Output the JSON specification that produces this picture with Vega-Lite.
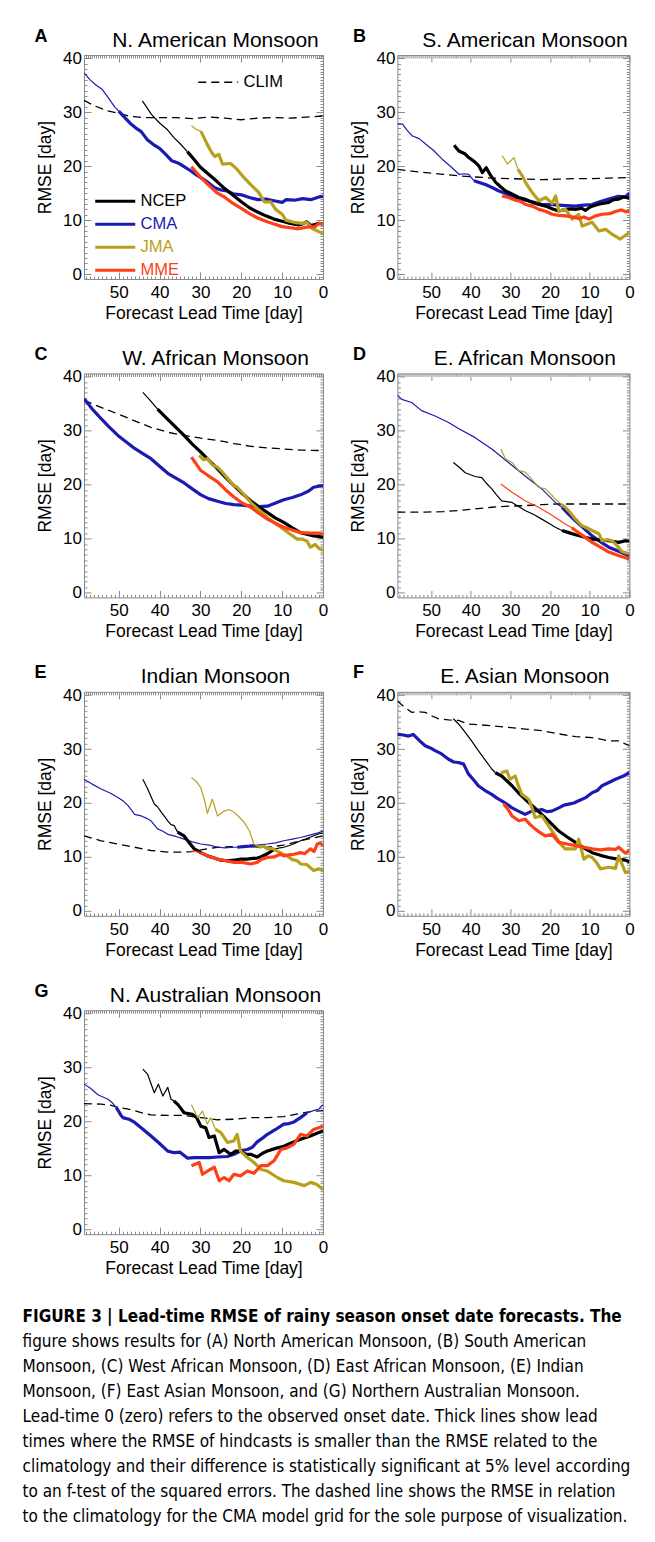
{
  "$schema": "https://vega.github.io/schema/vega-lite/v6.json",
  "background": "white",
  "padding": {"left": 22, "top": 26, "right": 0, "bottom": 10},
  "data": {"values": [
    {"p":"A","s":"CLIM","w":"thin","g":0,"x":58.5,"y":32.2},{"p":"A","s":"CLIM","w":"thin","g":0,"x":56,"y":31.2},{"p":"A","s":"CLIM","w":"thin","g":0,"x":53,"y":30.3},{"p":"A","s":"CLIM","w":"thin","g":0,"x":50,"y":29.8},{"p":"A","s":"CLIM","w":"thin","g":0,"x":47,"y":29.2},{"p":"A","s":"CLIM","w":"thin","g":0,"x":44,"y":29.0},{"p":"A","s":"CLIM","w":"thin","g":0,"x":40,"y":29.0},{"p":"A","s":"CLIM","w":"thin","g":0,"x":36,"y":29.0},{"p":"A","s":"CLIM","w":"thin","g":0,"x":32,"y":28.8},{"p":"A","s":"CLIM","w":"thin","g":0,"x":28,"y":29.1},{"p":"A","s":"CLIM","w":"thin","g":0,"x":24,"y":28.9},{"p":"A","s":"CLIM","w":"thin","g":0,"x":20,"y":28.6},{"p":"A","s":"CLIM","w":"thin","g":0,"x":16,"y":28.9},{"p":"A","s":"CLIM","w":"thin","g":0,"x":12,"y":29.0},{"p":"A","s":"CLIM","w":"thin","g":0,"x":8,"y":28.9},{"p":"A","s":"CLIM","w":"thin","g":0,"x":4,"y":29.1},{"p":"A","s":"CLIM","w":"thin","g":0,"x":0,"y":29.3},
    {"p":"A","s":"CMA","w":"thin","g":1,"x":58.5,"y":37.3},{"p":"A","s":"CMA","w":"thin","g":1,"x":57,"y":36.0},{"p":"A","s":"CMA","w":"thin","g":1,"x":55.5,"y":35.0},{"p":"A","s":"CMA","w":"thin","g":1,"x":54,"y":34.2},{"p":"A","s":"CMA","w":"thin","g":1,"x":52.5,"y":32.6},{"p":"A","s":"CMA","w":"thin","g":1,"x":51,"y":31.0},{"p":"A","s":"CMA","w":"thin","g":1,"x":50,"y":30.2},
    {"p":"A","s":"CMA","w":"thick","g":2,"x":50,"y":30.2},{"p":"A","s":"CMA","w":"thick","g":2,"x":48.5,"y":29.0},{"p":"A","s":"CMA","w":"thick","g":2,"x":47,"y":27.8},{"p":"A","s":"CMA","w":"thick","g":2,"x":45.5,"y":26.9},{"p":"A","s":"CMA","w":"thick","g":2,"x":44.5,"y":26.4},{"p":"A","s":"CMA","w":"thick","g":2,"x":43,"y":24.9},{"p":"A","s":"CMA","w":"thick","g":2,"x":41.5,"y":24.0},{"p":"A","s":"CMA","w":"thick","g":2,"x":40,"y":23.3},{"p":"A","s":"CMA","w":"thick","g":2,"x":38.5,"y":22.2},{"p":"A","s":"CMA","w":"thick","g":2,"x":37,"y":21.0},{"p":"A","s":"CMA","w":"thick","g":2,"x":35.5,"y":20.6},{"p":"A","s":"CMA","w":"thick","g":2,"x":34,"y":19.9},{"p":"A","s":"CMA","w":"thick","g":2,"x":32.5,"y":19.2},{"p":"A","s":"CMA","w":"thick","g":2,"x":31,"y":18.4},{"p":"A","s":"CMA","w":"thick","g":2,"x":29.5,"y":17.7},{"p":"A","s":"CMA","w":"thick","g":2,"x":28,"y":16.9},{"p":"A","s":"CMA","w":"thick","g":2,"x":26.5,"y":16.0},{"p":"A","s":"CMA","w":"thick","g":2,"x":25,"y":15.6},{"p":"A","s":"CMA","w":"thick","g":2,"x":23.5,"y":15.4},{"p":"A","s":"CMA","w":"thick","g":2,"x":22,"y":14.9},{"p":"A","s":"CMA","w":"thick","g":2,"x":20,"y":14.7},{"p":"A","s":"CMA","w":"thick","g":2,"x":18,"y":14.2},{"p":"A","s":"CMA","w":"thick","g":2,"x":16,"y":13.8},{"p":"A","s":"CMA","w":"thick","g":2,"x":14,"y":13.9},{"p":"A","s":"CMA","w":"thick","g":2,"x":12,"y":13.6},{"p":"A","s":"CMA","w":"thick","g":2,"x":10,"y":13.3},{"p":"A","s":"CMA","w":"thick","g":2,"x":9,"y":13.8},{"p":"A","s":"CMA","w":"thick","g":2,"x":7,"y":13.7},{"p":"A","s":"CMA","w":"thick","g":2,"x":5,"y":14.0},{"p":"A","s":"CMA","w":"thick","g":2,"x":3,"y":13.8},{"p":"A","s":"CMA","w":"thick","g":2,"x":1,"y":14.3},{"p":"A","s":"CMA","w":"thick","g":2,"x":0,"y":14.4},
    {"p":"A","s":"NCEP","w":"thin","g":1,"x":44.2,"y":32.1},{"p":"A","s":"NCEP","w":"thin","g":1,"x":42,"y":29.6},{"p":"A","s":"NCEP","w":"thin","g":1,"x":40,"y":28.0},{"p":"A","s":"NCEP","w":"thin","g":1,"x":38,"y":26.7},{"p":"A","s":"NCEP","w":"thin","g":1,"x":36.5,"y":25.3},{"p":"A","s":"NCEP","w":"thin","g":1,"x":35,"y":24.2},{"p":"A","s":"NCEP","w":"thin","g":1,"x":33.2,"y":22.7},
    {"p":"A","s":"NCEP","w":"thick","g":2,"x":33.2,"y":22.7},{"p":"A","s":"NCEP","w":"thick","g":2,"x":31.5,"y":21.2},{"p":"A","s":"NCEP","w":"thick","g":2,"x":30,"y":19.8},{"p":"A","s":"NCEP","w":"thick","g":2,"x":28,"y":18.5},{"p":"A","s":"NCEP","w":"thick","g":2,"x":26,"y":17.2},{"p":"A","s":"NCEP","w":"thick","g":2,"x":24,"y":15.8},{"p":"A","s":"NCEP","w":"thick","g":2,"x":22,"y":14.6},{"p":"A","s":"NCEP","w":"thick","g":2,"x":20,"y":13.4},{"p":"A","s":"NCEP","w":"thick","g":2,"x":18,"y":12.3},{"p":"A","s":"NCEP","w":"thick","g":2,"x":16,"y":11.5},{"p":"A","s":"NCEP","w":"thick","g":2,"x":14,"y":10.8},{"p":"A","s":"NCEP","w":"thick","g":2,"x":12,"y":10.2},{"p":"A","s":"NCEP","w":"thick","g":2,"x":10,"y":9.8},{"p":"A","s":"NCEP","w":"thick","g":2,"x":8,"y":9.4},{"p":"A","s":"NCEP","w":"thick","g":2,"x":6,"y":9.1},{"p":"A","s":"NCEP","w":"thick","g":2,"x":5,"y":9.3},{"p":"A","s":"NCEP","w":"thick","g":2,"x":4,"y":9.7},{"p":"A","s":"NCEP","w":"thick","g":2,"x":3,"y":9.0},{"p":"A","s":"NCEP","w":"thick","g":2,"x":2,"y":9.2},{"p":"A","s":"NCEP","w":"thick","g":2,"x":1,"y":9.4},{"p":"A","s":"NCEP","w":"thick","g":2,"x":0,"y":9.3},
    {"p":"A","s":"JMA","w":"thin","g":1,"x":32.2,"y":27.5},{"p":"A","s":"JMA","w":"thin","g":1,"x":31,"y":26.8},{"p":"A","s":"JMA","w":"thin","g":1,"x":29.9,"y":26.5},
    {"p":"A","s":"JMA","w":"thick","g":2,"x":29.9,"y":26.5},{"p":"A","s":"JMA","w":"thick","g":2,"x":28.3,"y":24.0},{"p":"A","s":"JMA","w":"thick","g":2,"x":27.2,"y":22.5},{"p":"A","s":"JMA","w":"thick","g":2,"x":26.5,"y":21.8},{"p":"A","s":"JMA","w":"thick","g":2,"x":25.5,"y":22.2},{"p":"A","s":"JMA","w":"thick","g":2,"x":24.6,"y":20.4},{"p":"A","s":"JMA","w":"thick","g":2,"x":22.6,"y":20.5},{"p":"A","s":"JMA","w":"thick","g":2,"x":21,"y":19.4},{"p":"A","s":"JMA","w":"thick","g":2,"x":19.5,"y":18.0},{"p":"A","s":"JMA","w":"thick","g":2,"x":17.7,"y":16.6},{"p":"A","s":"JMA","w":"thick","g":2,"x":15.7,"y":15.1},{"p":"A","s":"JMA","w":"thick","g":2,"x":14.4,"y":13.4},{"p":"A","s":"JMA","w":"thick","g":2,"x":12.8,"y":13.4},{"p":"A","s":"JMA","w":"thick","g":2,"x":11.6,"y":12.0},{"p":"A","s":"JMA","w":"thick","g":2,"x":10,"y":11.1},{"p":"A","s":"JMA","w":"thick","g":2,"x":9.1,"y":10.0},{"p":"A","s":"JMA","w":"thick","g":2,"x":7.1,"y":9.6},{"p":"A","s":"JMA","w":"thick","g":2,"x":5,"y":9.4},{"p":"A","s":"JMA","w":"thick","g":2,"x":4,"y":9.6},{"p":"A","s":"JMA","w":"thick","g":2,"x":2.5,"y":8.4},{"p":"A","s":"JMA","w":"thick","g":2,"x":0,"y":7.5},
    {"p":"A","s":"MME","w":"thick","g":1,"x":32.2,"y":19.9},{"p":"A","s":"MME","w":"thick","g":1,"x":30.5,"y":18.4},{"p":"A","s":"MME","w":"thick","g":1,"x":29.9,"y":17.9},{"p":"A","s":"MME","w":"thick","g":1,"x":28,"y":16.5},{"p":"A","s":"MME","w":"thick","g":1,"x":26,"y":15.1},{"p":"A","s":"MME","w":"thick","g":1,"x":24,"y":14.2},{"p":"A","s":"MME","w":"thick","g":1,"x":22,"y":13.1},{"p":"A","s":"MME","w":"thick","g":1,"x":20,"y":12.2},{"p":"A","s":"MME","w":"thick","g":1,"x":18,"y":11.2},{"p":"A","s":"MME","w":"thick","g":1,"x":16,"y":10.4},{"p":"A","s":"MME","w":"thick","g":1,"x":14,"y":9.8},{"p":"A","s":"MME","w":"thick","g":1,"x":12,"y":9.3},{"p":"A","s":"MME","w":"thick","g":1,"x":10,"y":8.8},{"p":"A","s":"MME","w":"thick","g":1,"x":8,"y":8.6},{"p":"A","s":"MME","w":"thick","g":1,"x":6,"y":8.4},{"p":"A","s":"MME","w":"thick","g":1,"x":4,"y":8.7},{"p":"A","s":"MME","w":"thick","g":1,"x":2,"y":8.8},{"p":"A","s":"MME","w":"thick","g":1,"x":1,"y":9.4},{"p":"A","s":"MME","w":"thick","g":1,"x":0,"y":9.3},

    {"p":"B","s":"CLIM","w":"thin","g":0,"x":58.5,"y":19.4},{"p":"B","s":"CLIM","w":"thin","g":0,"x":55,"y":19.1},{"p":"B","s":"CLIM","w":"thin","g":0,"x":51.4,"y":18.8},{"p":"B","s":"CLIM","w":"thin","g":0,"x":47,"y":18.5},{"p":"B","s":"CLIM","w":"thin","g":0,"x":43,"y":18.2},{"p":"B","s":"CLIM","w":"thin","g":0,"x":38.8,"y":18.0},{"p":"B","s":"CLIM","w":"thin","g":0,"x":34.6,"y":17.8},{"p":"B","s":"CLIM","w":"thin","g":0,"x":30,"y":17.7},{"p":"B","s":"CLIM","w":"thin","g":0,"x":26.2,"y":17.6},{"p":"B","s":"CLIM","w":"thin","g":0,"x":22,"y":17.5},{"p":"B","s":"CLIM","w":"thin","g":0,"x":17.8,"y":17.6},{"p":"B","s":"CLIM","w":"thin","g":0,"x":13.6,"y":17.7},{"p":"B","s":"CLIM","w":"thin","g":0,"x":9.4,"y":17.7},{"p":"B","s":"CLIM","w":"thin","g":0,"x":5,"y":17.8},{"p":"B","s":"CLIM","w":"thin","g":0,"x":0,"y":17.9},
    {"p":"B","s":"CMA","w":"thin","g":1,"x":58.5,"y":27.8},{"p":"B","s":"CMA","w":"thin","g":1,"x":57.2,"y":27.8},{"p":"B","s":"CMA","w":"thin","g":1,"x":56,"y":26.6},{"p":"B","s":"CMA","w":"thin","g":1,"x":54.7,"y":25.6},{"p":"B","s":"CMA","w":"thin","g":1,"x":53,"y":25.1},{"p":"B","s":"CMA","w":"thin","g":1,"x":51.4,"y":24.1},{"p":"B","s":"CMA","w":"thin","g":1,"x":49.5,"y":23.0},{"p":"B","s":"CMA","w":"thin","g":1,"x":47.2,"y":21.3},{"p":"B","s":"CMA","w":"thin","g":1,"x":45,"y":19.9},{"p":"B","s":"CMA","w":"thin","g":1,"x":43,"y":18.5},{"p":"B","s":"CMA","w":"thin","g":1,"x":41.5,"y":18.6},{"p":"B","s":"CMA","w":"thin","g":1,"x":40.5,"y":18.5},{"p":"B","s":"CMA","w":"thin","g":1,"x":39.2,"y":17.3},
    {"p":"B","s":"CMA","w":"thick","g":2,"x":39.2,"y":17.3},{"p":"B","s":"CMA","w":"thick","g":2,"x":37.5,"y":16.9},{"p":"B","s":"CMA","w":"thick","g":2,"x":36.3,"y":16.6},{"p":"B","s":"CMA","w":"thick","g":2,"x":34.5,"y":16.0},{"p":"B","s":"CMA","w":"thick","g":2,"x":32.9,"y":15.4},{"p":"B","s":"CMA","w":"thick","g":2,"x":31,"y":14.9},{"p":"B","s":"CMA","w":"thick","g":2,"x":29.5,"y":14.2},{"p":"B","s":"CMA","w":"thick","g":2,"x":28,"y":14.0},{"p":"B","s":"CMA","w":"thick","g":2,"x":26.2,"y":13.7},{"p":"B","s":"CMA","w":"thick","g":2,"x":24,"y":13.3},{"p":"B","s":"CMA","w":"thick","g":2,"x":22,"y":12.9},{"p":"B","s":"CMA","w":"thick","g":2,"x":20,"y":12.9},{"p":"B","s":"CMA","w":"thick","g":2,"x":17.8,"y":12.8},{"p":"B","s":"CMA","w":"thick","g":2,"x":16,"y":12.7},{"p":"B","s":"CMA","w":"thick","g":2,"x":13.6,"y":12.6},{"p":"B","s":"CMA","w":"thick","g":2,"x":11.5,"y":12.8},{"p":"B","s":"CMA","w":"thick","g":2,"x":9.4,"y":12.9},{"p":"B","s":"CMA","w":"thick","g":2,"x":7.5,"y":13.4},{"p":"B","s":"CMA","w":"thick","g":2,"x":5.2,"y":13.9},{"p":"B","s":"CMA","w":"thick","g":2,"x":3,"y":14.4},{"p":"B","s":"CMA","w":"thick","g":2,"x":1,"y":14.3},{"p":"B","s":"CMA","w":"thick","g":2,"x":0,"y":15.0},
    {"p":"B","s":"NCEP","w":"thick","g":1,"x":44.2,"y":23.9},{"p":"B","s":"NCEP","w":"thick","g":1,"x":43,"y":22.8},{"p":"B","s":"NCEP","w":"thick","g":1,"x":41.5,"y":22.3},{"p":"B","s":"NCEP","w":"thick","g":1,"x":40.5,"y":21.6},{"p":"B","s":"NCEP","w":"thick","g":1,"x":39,"y":20.8},{"p":"B","s":"NCEP","w":"thick","g":1,"x":37.9,"y":20.0},{"p":"B","s":"NCEP","w":"thick","g":1,"x":37.1,"y":18.8},{"p":"B","s":"NCEP","w":"thick","g":1,"x":36.1,"y":19.7},{"p":"B","s":"NCEP","w":"thick","g":1,"x":35,"y":18.3},{"p":"B","s":"NCEP","w":"thick","g":1,"x":33.7,"y":17.0},{"p":"B","s":"NCEP","w":"thick","g":1,"x":32.5,"y":16.2},{"p":"B","s":"NCEP","w":"thick","g":1,"x":31.2,"y":15.4},{"p":"B","s":"NCEP","w":"thick","g":1,"x":29.5,"y":14.8},{"p":"B","s":"NCEP","w":"thick","g":1,"x":27.9,"y":14.2},{"p":"B","s":"NCEP","w":"thick","g":1,"x":26,"y":13.8},{"p":"B","s":"NCEP","w":"thick","g":1,"x":24.5,"y":13.3},{"p":"B","s":"NCEP","w":"thick","g":1,"x":22.8,"y":12.9},{"p":"B","s":"NCEP","w":"thick","g":1,"x":21.1,"y":12.6},{"p":"B","s":"NCEP","w":"thick","g":1,"x":19.5,"y":12.1},{"p":"B","s":"NCEP","w":"thick","g":1,"x":17.8,"y":11.7},{"p":"B","s":"NCEP","w":"thick","g":1,"x":16,"y":12.0},{"p":"B","s":"NCEP","w":"thick","g":1,"x":14.5,"y":12.1},{"p":"B","s":"NCEP","w":"thick","g":1,"x":13.6,"y":12.0},{"p":"B","s":"NCEP","w":"thick","g":1,"x":12,"y":12.2},{"p":"B","s":"NCEP","w":"thick","g":1,"x":11.1,"y":11.8},{"p":"B","s":"NCEP","w":"thick","g":1,"x":10,"y":12.4},{"p":"B","s":"NCEP","w":"thick","g":1,"x":9.4,"y":12.6},{"p":"B","s":"NCEP","w":"thick","g":1,"x":7.5,"y":13.0},{"p":"B","s":"NCEP","w":"thick","g":1,"x":5.2,"y":13.3},{"p":"B","s":"NCEP","w":"thick","g":1,"x":4,"y":13.8},{"p":"B","s":"NCEP","w":"thick","g":1,"x":2.7,"y":13.9},{"p":"B","s":"NCEP","w":"thick","g":1,"x":1.5,"y":14.3},{"p":"B","s":"NCEP","w":"thick","g":1,"x":0,"y":14.1},
    {"p":"B","s":"JMA","w":"thin","g":1,"x":32.1,"y":21.9},{"p":"B","s":"JMA","w":"thin","g":1,"x":31.5,"y":21.3},{"p":"B","s":"JMA","w":"thin","g":1,"x":30.8,"y":20.4},{"p":"B","s":"JMA","w":"thin","g":1,"x":29.9,"y":21.0},{"p":"B","s":"JMA","w":"thin","g":1,"x":29.1,"y":21.6},{"p":"B","s":"JMA","w":"thin","g":1,"x":28.1,"y":19.4},
    {"p":"B","s":"JMA","w":"thick","g":2,"x":28.1,"y":19.4},{"p":"B","s":"JMA","w":"thick","g":2,"x":27,"y":18.2},{"p":"B","s":"JMA","w":"thick","g":2,"x":26.2,"y":17.0},{"p":"B","s":"JMA","w":"thick","g":2,"x":25.3,"y":16.0},{"p":"B","s":"JMA","w":"thick","g":2,"x":24.5,"y":15.1},{"p":"B","s":"JMA","w":"thick","g":2,"x":22.8,"y":13.6},{"p":"B","s":"JMA","w":"thick","g":2,"x":21.1,"y":14.2},{"p":"B","s":"JMA","w":"thick","g":2,"x":19.5,"y":13.1},{"p":"B","s":"JMA","w":"thick","g":2,"x":18.6,"y":14.5},{"p":"B","s":"JMA","w":"thick","g":2,"x":17.8,"y":11.7},{"p":"B","s":"JMA","w":"thick","g":2,"x":16.1,"y":12.0},{"p":"B","s":"JMA","w":"thick","g":2,"x":14.4,"y":10.2},{"p":"B","s":"JMA","w":"thick","g":2,"x":12.8,"y":11.1},{"p":"B","s":"JMA","w":"thick","g":2,"x":11.9,"y":8.9},{"p":"B","s":"JMA","w":"thick","g":2,"x":9.4,"y":9.6},{"p":"B","s":"JMA","w":"thick","g":2,"x":7.7,"y":8.0},{"p":"B","s":"JMA","w":"thick","g":2,"x":6,"y":8.3},{"p":"B","s":"JMA","w":"thick","g":2,"x":4.4,"y":7.4},{"p":"B","s":"JMA","w":"thick","g":2,"x":2.3,"y":6.5},{"p":"B","s":"JMA","w":"thick","g":2,"x":0,"y":7.7},
    {"p":"B","s":"MME","w":"thick","g":1,"x":32.1,"y":14.5},{"p":"B","s":"MME","w":"thick","g":1,"x":30.5,"y":14.2},{"p":"B","s":"MME","w":"thick","g":1,"x":28.7,"y":13.7},{"p":"B","s":"MME","w":"thick","g":1,"x":27.5,"y":13.5},{"p":"B","s":"MME","w":"thick","g":1,"x":26.2,"y":12.9},{"p":"B","s":"MME","w":"thick","g":1,"x":24.5,"y":12.6},{"p":"B","s":"MME","w":"thick","g":1,"x":22.8,"y":12.0},{"p":"B","s":"MME","w":"thick","g":1,"x":21,"y":11.6},{"p":"B","s":"MME","w":"thick","g":1,"x":19.5,"y":11.1},{"p":"B","s":"MME","w":"thick","g":1,"x":17.8,"y":10.9},{"p":"B","s":"MME","w":"thick","g":1,"x":16.1,"y":10.8},{"p":"B","s":"MME","w":"thick","g":1,"x":14.5,"y":10.6},{"p":"B","s":"MME","w":"thick","g":1,"x":12.8,"y":10.3},{"p":"B","s":"MME","w":"thick","g":1,"x":11.5,"y":10.6},{"p":"B","s":"MME","w":"thick","g":1,"x":10.2,"y":10.2},{"p":"B","s":"MME","w":"thick","g":1,"x":8.5,"y":10.8},{"p":"B","s":"MME","w":"thick","g":1,"x":6.9,"y":11.1},{"p":"B","s":"MME","w":"thick","g":1,"x":5,"y":11.2},{"p":"B","s":"MME","w":"thick","g":1,"x":3.5,"y":11.6},{"p":"B","s":"MME","w":"thick","g":1,"x":2,"y":11.9},{"p":"B","s":"MME","w":"thick","g":1,"x":1,"y":11.6},{"p":"B","s":"MME","w":"thick","g":1,"x":0,"y":11.6},

    {"p":"C","s":"CLIM","w":"thin","g":0,"x":58.5,"y":35.6},{"p":"C","s":"CLIM","w":"thin","g":0,"x":54.3,"y":34.3},{"p":"C","s":"CLIM","w":"thin","g":0,"x":50.2,"y":33.1},{"p":"C","s":"CLIM","w":"thin","g":0,"x":46.1,"y":31.8},{"p":"C","s":"CLIM","w":"thin","g":0,"x":42.1,"y":30.6},{"p":"C","s":"CLIM","w":"thin","g":0,"x":38,"y":29.7},{"p":"C","s":"CLIM","w":"thin","g":0,"x":34,"y":29.1},{"p":"C","s":"CLIM","w":"thin","g":0,"x":29.9,"y":28.6},{"p":"C","s":"CLIM","w":"thin","g":0,"x":25.8,"y":28.2},{"p":"C","s":"CLIM","w":"thin","g":0,"x":21.8,"y":27.6},{"p":"C","s":"CLIM","w":"thin","g":0,"x":17.7,"y":27.1},{"p":"C","s":"CLIM","w":"thin","g":0,"x":13.6,"y":26.8},{"p":"C","s":"CLIM","w":"thin","g":0,"x":9.6,"y":26.6},{"p":"C","s":"CLIM","w":"thin","g":0,"x":5.5,"y":26.4},{"p":"C","s":"CLIM","w":"thin","g":0,"x":0,"y":26.3},
    {"p":"C","s":"CMA","w":"thick","g":1,"x":58.5,"y":35.9},{"p":"C","s":"CMA","w":"thick","g":1,"x":57.5,"y":35.0},{"p":"C","s":"CMA","w":"thick","g":1,"x":56.5,"y":34.0},{"p":"C","s":"CMA","w":"thick","g":1,"x":55.5,"y":33.2},{"p":"C","s":"CMA","w":"thick","g":1,"x":54.3,"y":32.2},{"p":"C","s":"CMA","w":"thick","g":1,"x":52.5,"y":30.8},{"p":"C","s":"CMA","w":"thick","g":1,"x":50.2,"y":29.1},{"p":"C","s":"CMA","w":"thick","g":1,"x":48,"y":27.8},{"p":"C","s":"CMA","w":"thick","g":1,"x":46.1,"y":26.7},{"p":"C","s":"CMA","w":"thick","g":1,"x":44,"y":25.7},{"p":"C","s":"CMA","w":"thick","g":1,"x":42.1,"y":24.8},{"p":"C","s":"CMA","w":"thick","g":1,"x":40,"y":23.4},{"p":"C","s":"CMA","w":"thick","g":1,"x":38,"y":22.1},{"p":"C","s":"CMA","w":"thick","g":1,"x":36,"y":21.2},{"p":"C","s":"CMA","w":"thick","g":1,"x":34,"y":20.3},{"p":"C","s":"CMA","w":"thick","g":1,"x":32,"y":19.2},{"p":"C","s":"CMA","w":"thick","g":1,"x":29.9,"y":18.1},{"p":"C","s":"CMA","w":"thick","g":1,"x":28,"y":17.4},{"p":"C","s":"CMA","w":"thick","g":1,"x":25.8,"y":16.9},{"p":"C","s":"CMA","w":"thick","g":1,"x":23.8,"y":16.5},{"p":"C","s":"CMA","w":"thick","g":1,"x":21.8,"y":16.3},{"p":"C","s":"CMA","w":"thick","g":1,"x":19.8,"y":16.2},{"p":"C","s":"CMA","w":"thick","g":1,"x":17.7,"y":16.0},{"p":"C","s":"CMA","w":"thick","g":1,"x":15.7,"y":15.9},{"p":"C","s":"CMA","w":"thick","g":1,"x":13.6,"y":16.0},{"p":"C","s":"CMA","w":"thick","g":1,"x":11.6,"y":16.6},{"p":"C","s":"CMA","w":"thick","g":1,"x":9.6,"y":17.2},{"p":"C","s":"CMA","w":"thick","g":1,"x":7.5,"y":17.6},{"p":"C","s":"CMA","w":"thick","g":1,"x":5.5,"y":18.1},{"p":"C","s":"CMA","w":"thick","g":1,"x":3.5,"y":18.8},{"p":"C","s":"CMA","w":"thick","g":1,"x":2.3,"y":19.5},{"p":"C","s":"CMA","w":"thick","g":1,"x":1,"y":19.7},{"p":"C","s":"CMA","w":"thick","g":1,"x":0,"y":19.8},
    {"p":"C","s":"NCEP","w":"thin","g":1,"x":44.1,"y":37.1},{"p":"C","s":"NCEP","w":"thin","g":1,"x":42.3,"y":35.6},{"p":"C","s":"NCEP","w":"thin","g":1,"x":40.5,"y":34.0},
    {"p":"C","s":"NCEP","w":"thick","g":2,"x":40.5,"y":34.0},{"p":"C","s":"NCEP","w":"thick","g":2,"x":38,"y":32.1},{"p":"C","s":"NCEP","w":"thick","g":2,"x":36,"y":30.6},{"p":"C","s":"NCEP","w":"thick","g":2,"x":34,"y":29.1},{"p":"C","s":"NCEP","w":"thick","g":2,"x":32,"y":27.5},{"p":"C","s":"NCEP","w":"thick","g":2,"x":29.9,"y":26.0},{"p":"C","s":"NCEP","w":"thick","g":2,"x":27.8,"y":24.4},{"p":"C","s":"NCEP","w":"thick","g":2,"x":25.8,"y":22.9},{"p":"C","s":"NCEP","w":"thick","g":2,"x":23.8,"y":21.3},{"p":"C","s":"NCEP","w":"thick","g":2,"x":21.8,"y":19.8},{"p":"C","s":"NCEP","w":"thick","g":2,"x":19.8,"y":18.4},{"p":"C","s":"NCEP","w":"thick","g":2,"x":17.7,"y":17.0},{"p":"C","s":"NCEP","w":"thick","g":2,"x":15.7,"y":15.9},{"p":"C","s":"NCEP","w":"thick","g":2,"x":13.6,"y":14.8},{"p":"C","s":"NCEP","w":"thick","g":2,"x":11.6,"y":13.8},{"p":"C","s":"NCEP","w":"thick","g":2,"x":9.6,"y":13.0},{"p":"C","s":"NCEP","w":"thick","g":2,"x":7.5,"y":12.0},{"p":"C","s":"NCEP","w":"thick","g":2,"x":5.5,"y":11.1},{"p":"C","s":"NCEP","w":"thick","g":2,"x":3.5,"y":10.7},{"p":"C","s":"NCEP","w":"thick","g":2,"x":2.3,"y":10.5},{"p":"C","s":"NCEP","w":"thick","g":2,"x":1,"y":10.4},{"p":"C","s":"NCEP","w":"thick","g":2,"x":0,"y":10.2},
    {"p":"C","s":"JMA","w":"thick","g":1,"x":30.3,"y":25.4},{"p":"C","s":"JMA","w":"thick","g":1,"x":29.3,"y":24.6},{"p":"C","s":"JMA","w":"thick","g":1,"x":28.3,"y":24.8},{"p":"C","s":"JMA","w":"thick","g":1,"x":27,"y":23.6},{"p":"C","s":"JMA","w":"thick","g":1,"x":25.8,"y":23.2},{"p":"C","s":"JMA","w":"thick","g":1,"x":25,"y":22.6},{"p":"C","s":"JMA","w":"thick","g":1,"x":23.5,"y":21.3},{"p":"C","s":"JMA","w":"thick","g":1,"x":21.8,"y":19.8},{"p":"C","s":"JMA","w":"thick","g":1,"x":21,"y":19.5},{"p":"C","s":"JMA","w":"thick","g":1,"x":19.5,"y":18.3},{"p":"C","s":"JMA","w":"thick","g":1,"x":17.7,"y":16.7},{"p":"C","s":"JMA","w":"thick","g":1,"x":15.7,"y":15.3},{"p":"C","s":"JMA","w":"thick","g":1,"x":13.6,"y":13.9},{"p":"C","s":"JMA","w":"thick","g":1,"x":11.6,"y":12.8},{"p":"C","s":"JMA","w":"thick","g":1,"x":9.6,"y":11.7},{"p":"C","s":"JMA","w":"thick","g":1,"x":8,"y":10.8},{"p":"C","s":"JMA","w":"thick","g":1,"x":6.3,"y":9.9},{"p":"C","s":"JMA","w":"thick","g":1,"x":5,"y":9.9},{"p":"C","s":"JMA","w":"thick","g":1,"x":3.9,"y":9.5},{"p":"C","s":"JMA","w":"thick","g":1,"x":3.1,"y":8.4},{"p":"C","s":"JMA","w":"thick","g":1,"x":1.9,"y":8.9},{"p":"C","s":"JMA","w":"thick","g":1,"x":1,"y":8.2},{"p":"C","s":"JMA","w":"thick","g":1,"x":0,"y":7.8},
    {"p":"C","s":"MME","w":"thick","g":1,"x":32.2,"y":25.1},{"p":"C","s":"MME","w":"thick","g":1,"x":31,"y":23.8},{"p":"C","s":"MME","w":"thick","g":1,"x":29.9,"y":22.6},{"p":"C","s":"MME","w":"thick","g":1,"x":27.8,"y":21.5},{"p":"C","s":"MME","w":"thick","g":1,"x":25.8,"y":20.5},{"p":"C","s":"MME","w":"thick","g":1,"x":23.8,"y":19.0},{"p":"C","s":"MME","w":"thick","g":1,"x":21.8,"y":17.7},{"p":"C","s":"MME","w":"thick","g":1,"x":19.8,"y":16.6},{"p":"C","s":"MME","w":"thick","g":1,"x":17.7,"y":15.8},{"p":"C","s":"MME","w":"thick","g":1,"x":15.7,"y":14.7},{"p":"C","s":"MME","w":"thick","g":1,"x":13.6,"y":13.6},{"p":"C","s":"MME","w":"thick","g":1,"x":11.6,"y":12.8},{"p":"C","s":"MME","w":"thick","g":1,"x":9.6,"y":12.1},{"p":"C","s":"MME","w":"thick","g":1,"x":7.5,"y":11.6},{"p":"C","s":"MME","w":"thick","g":1,"x":5.5,"y":11.1},{"p":"C","s":"MME","w":"thick","g":1,"x":3,"y":11.0},{"p":"C","s":"MME","w":"thick","g":1,"x":1,"y":11.0},{"p":"C","s":"MME","w":"thick","g":1,"x":0,"y":10.8},

    {"p":"D","s":"CLIM","w":"thin","g":0,"x":58.5,"y":14.9},{"p":"D","s":"CLIM","w":"thin","g":0,"x":51.5,"y":14.9},{"p":"D","s":"CLIM","w":"thin","g":0,"x":47,"y":15.0},{"p":"D","s":"CLIM","w":"thin","g":0,"x":43.1,"y":15.2},{"p":"D","s":"CLIM","w":"thin","g":0,"x":39,"y":15.5},{"p":"D","s":"CLIM","w":"thin","g":0,"x":34.7,"y":15.8},{"p":"D","s":"CLIM","w":"thin","g":0,"x":30.5,"y":16.0},{"p":"D","s":"CLIM","w":"thin","g":0,"x":26.3,"y":16.1},{"p":"D","s":"CLIM","w":"thin","g":0,"x":22,"y":16.3},{"p":"D","s":"CLIM","w":"thin","g":0,"x":17.8,"y":16.4},{"p":"D","s":"CLIM","w":"thin","g":0,"x":13.6,"y":16.4},{"p":"D","s":"CLIM","w":"thin","g":0,"x":9.4,"y":16.4},{"p":"D","s":"CLIM","w":"thin","g":0,"x":5,"y":16.4},{"p":"D","s":"CLIM","w":"thin","g":0,"x":0,"y":16.4},
    {"p":"D","s":"CMA","w":"thin","g":1,"x":58.5,"y":36.6},{"p":"D","s":"CMA","w":"thin","g":1,"x":57.4,"y":35.8},{"p":"D","s":"CMA","w":"thin","g":1,"x":54.9,"y":35.2},{"p":"D","s":"CMA","w":"thin","g":1,"x":52.4,"y":33.7},{"p":"D","s":"CMA","w":"thin","g":1,"x":49,"y":32.7},{"p":"D","s":"CMA","w":"thin","g":1,"x":45.6,"y":31.5},{"p":"D","s":"CMA","w":"thin","g":1,"x":43.1,"y":30.4},{"p":"D","s":"CMA","w":"thin","g":1,"x":38.9,"y":28.7},{"p":"D","s":"CMA","w":"thin","g":1,"x":34.7,"y":26.6},{"p":"D","s":"CMA","w":"thin","g":1,"x":30.5,"y":24.1},{"p":"D","s":"CMA","w":"thin","g":1,"x":26.3,"y":21.6},{"p":"D","s":"CMA","w":"thin","g":1,"x":22.1,"y":19.2},{"p":"D","s":"CMA","w":"thin","g":1,"x":18.7,"y":16.7},{"p":"D","s":"CMA","w":"thin","g":1,"x":17,"y":15.8},
    {"p":"D","s":"CMA","w":"thick","g":2,"x":17,"y":15.8},{"p":"D","s":"CMA","w":"thick","g":2,"x":15.3,"y":14.5},{"p":"D","s":"CMA","w":"thick","g":2,"x":13.6,"y":13.3},{"p":"D","s":"CMA","w":"thick","g":2,"x":11.5,"y":11.9},{"p":"D","s":"CMA","w":"thick","g":2,"x":9.4,"y":10.5},{"p":"D","s":"CMA","w":"thick","g":2,"x":7.3,"y":9.4},{"p":"D","s":"CMA","w":"thick","g":2,"x":5.2,"y":8.4},{"p":"D","s":"CMA","w":"thick","g":2,"x":2.6,"y":7.6},{"p":"D","s":"CMA","w":"thick","g":2,"x":0,"y":6.8},
    {"p":"D","s":"NCEP","w":"thin","g":1,"x":44.4,"y":24.1},{"p":"D","s":"NCEP","w":"thin","g":1,"x":42.9,"y":23.2},{"p":"D","s":"NCEP","w":"thin","g":1,"x":41.4,"y":22.2},{"p":"D","s":"NCEP","w":"thin","g":1,"x":38.9,"y":21.5},{"p":"D","s":"NCEP","w":"thin","g":1,"x":37.2,"y":21.3},{"p":"D","s":"NCEP","w":"thin","g":1,"x":36,"y":20.2},{"p":"D","s":"NCEP","w":"thin","g":1,"x":34.7,"y":19.2},{"p":"D","s":"NCEP","w":"thin","g":1,"x":33.5,"y":18.1},{"p":"D","s":"NCEP","w":"thin","g":1,"x":32.2,"y":17.0},{"p":"D","s":"NCEP","w":"thin","g":1,"x":29.6,"y":16.7},{"p":"D","s":"NCEP","w":"thin","g":1,"x":26.3,"y":15.2},{"p":"D","s":"NCEP","w":"thin","g":1,"x":24,"y":14.4},{"p":"D","s":"NCEP","w":"thin","g":1,"x":22.1,"y":13.6},{"p":"D","s":"NCEP","w":"thin","g":1,"x":20,"y":12.7},{"p":"D","s":"NCEP","w":"thin","g":1,"x":18.7,"y":12.1},{"p":"D","s":"NCEP","w":"thin","g":1,"x":17,"y":11.5},
    {"p":"D","s":"NCEP","w":"thick","g":2,"x":17,"y":11.5},{"p":"D","s":"NCEP","w":"thick","g":2,"x":15.3,"y":11.1},{"p":"D","s":"NCEP","w":"thick","g":2,"x":13.6,"y":10.7},{"p":"D","s":"NCEP","w":"thick","g":2,"x":11.5,"y":10.3},{"p":"D","s":"NCEP","w":"thick","g":2,"x":9.4,"y":9.9},{"p":"D","s":"NCEP","w":"thick","g":2,"x":7.3,"y":9.7},{"p":"D","s":"NCEP","w":"thick","g":2,"x":5.2,"y":9.6},{"p":"D","s":"NCEP","w":"thick","g":2,"x":2.7,"y":9.3},{"p":"D","s":"NCEP","w":"thick","g":2,"x":1,"y":9.6},{"p":"D","s":"NCEP","w":"thick","g":2,"x":0,"y":9.5},
    {"p":"D","s":"JMA","w":"thin","g":1,"x":32.4,"y":26.6},{"p":"D","s":"JMA","w":"thin","g":1,"x":31.3,"y":24.8},{"p":"D","s":"JMA","w":"thin","g":1,"x":29.6,"y":24.1},{"p":"D","s":"JMA","w":"thin","g":1,"x":27.9,"y":22.6},{"p":"D","s":"JMA","w":"thin","g":1,"x":26.3,"y":22.3},{"p":"D","s":"JMA","w":"thin","g":1,"x":24.6,"y":21.0},{"p":"D","s":"JMA","w":"thin","g":1,"x":22.9,"y":19.5},{"p":"D","s":"JMA","w":"thin","g":1,"x":21.2,"y":19.2},{"p":"D","s":"JMA","w":"thin","g":1,"x":19.5,"y":18.0},{"p":"D","s":"JMA","w":"thin","g":1,"x":18.7,"y":17.3},{"p":"D","s":"JMA","w":"thin","g":1,"x":17,"y":16.3},
    {"p":"D","s":"JMA","w":"thick","g":2,"x":17,"y":16.3},{"p":"D","s":"JMA","w":"thick","g":2,"x":16.2,"y":15.8},{"p":"D","s":"JMA","w":"thick","g":2,"x":14.9,"y":14.8},{"p":"D","s":"JMA","w":"thick","g":2,"x":13.6,"y":13.6},{"p":"D","s":"JMA","w":"thick","g":2,"x":12,"y":12.4},{"p":"D","s":"JMA","w":"thick","g":2,"x":10.8,"y":12.0},{"p":"D","s":"JMA","w":"thick","g":2,"x":9.4,"y":11.5},{"p":"D","s":"JMA","w":"thick","g":2,"x":7.7,"y":10.9},{"p":"D","s":"JMA","w":"thick","g":2,"x":6.9,"y":9.6},{"p":"D","s":"JMA","w":"thick","g":2,"x":5.5,"y":9.8},{"p":"D","s":"JMA","w":"thick","g":2,"x":4.4,"y":9.6},{"p":"D","s":"JMA","w":"thick","g":2,"x":3,"y":8.6},{"p":"D","s":"JMA","w":"thick","g":2,"x":1.9,"y":7.6},{"p":"D","s":"JMA","w":"thick","g":2,"x":0,"y":7.2},
    {"p":"D","s":"MME","w":"thin","g":1,"x":32.4,"y":20.1},{"p":"D","s":"MME","w":"thin","g":1,"x":29.6,"y":18.6},{"p":"D","s":"MME","w":"thin","g":1,"x":26.3,"y":17.0},{"p":"D","s":"MME","w":"thin","g":1,"x":22.9,"y":15.8},{"p":"D","s":"MME","w":"thin","g":1,"x":19.5,"y":14.3},{"p":"D","s":"MME","w":"thin","g":1,"x":16.2,"y":12.7},{"p":"D","s":"MME","w":"thin","g":1,"x":14.5,"y":12.0},
    {"p":"D","s":"MME","w":"thick","g":2,"x":14.5,"y":12.0},{"p":"D","s":"MME","w":"thick","g":2,"x":13.6,"y":11.5},{"p":"D","s":"MME","w":"thick","g":2,"x":11.5,"y":10.4},{"p":"D","s":"MME","w":"thick","g":2,"x":9.4,"y":9.3},{"p":"D","s":"MME","w":"thick","g":2,"x":7.3,"y":8.4},{"p":"D","s":"MME","w":"thick","g":2,"x":5.2,"y":7.5},{"p":"D","s":"MME","w":"thick","g":2,"x":2.6,"y":6.8},{"p":"D","s":"MME","w":"thick","g":2,"x":0,"y":6.2},

    {"p":"E","s":"CLIM","w":"thin","g":0,"x":58.5,"y":13.9},{"p":"E","s":"CLIM","w":"thin","g":0,"x":54.3,"y":13.0},{"p":"E","s":"CLIM","w":"thin","g":0,"x":50.2,"y":12.4},{"p":"E","s":"CLIM","w":"thin","g":0,"x":46.1,"y":11.8},{"p":"E","s":"CLIM","w":"thin","g":0,"x":42.1,"y":11.2},{"p":"E","s":"CLIM","w":"thin","g":0,"x":38,"y":10.9},{"p":"E","s":"CLIM","w":"thin","g":0,"x":34,"y":10.9},{"p":"E","s":"CLIM","w":"thin","g":0,"x":32,"y":11.0},{"p":"E","s":"CLIM","w":"thin","g":0,"x":29.9,"y":11.3},{"p":"E","s":"CLIM","w":"thin","g":0,"x":25.8,"y":11.8},{"p":"E","s":"CLIM","w":"thin","g":0,"x":21.8,"y":11.9},{"p":"E","s":"CLIM","w":"thin","g":0,"x":17.7,"y":11.9},{"p":"E","s":"CLIM","w":"thin","g":0,"x":13.6,"y":11.8},{"p":"E","s":"CLIM","w":"thin","g":0,"x":9.6,"y":12.2},{"p":"E","s":"CLIM","w":"thin","g":0,"x":5.5,"y":13.0},{"p":"E","s":"CLIM","w":"thin","g":0,"x":0,"y":13.9},
    {"p":"E","s":"CMA","w":"thin","g":1,"x":58.5,"y":24.4},{"p":"E","s":"CMA","w":"thin","g":1,"x":56.5,"y":23.5},{"p":"E","s":"CMA","w":"thin","g":1,"x":54.3,"y":22.6},{"p":"E","s":"CMA","w":"thin","g":1,"x":52,"y":21.8},{"p":"E","s":"CMA","w":"thin","g":1,"x":50.2,"y":21.0},{"p":"E","s":"CMA","w":"thin","g":1,"x":48.8,"y":20.3},{"p":"E","s":"CMA","w":"thin","g":1,"x":47.7,"y":19.5},{"p":"E","s":"CMA","w":"thin","g":1,"x":46.1,"y":17.9},{"p":"E","s":"CMA","w":"thin","g":1,"x":44.5,"y":17.6},{"p":"E","s":"CMA","w":"thin","g":1,"x":43,"y":17.1},{"p":"E","s":"CMA","w":"thin","g":1,"x":42.1,"y":16.7},{"p":"E","s":"CMA","w":"thin","g":1,"x":40.5,"y":15.2},{"p":"E","s":"CMA","w":"thin","g":1,"x":39.3,"y":14.8},{"p":"E","s":"CMA","w":"thin","g":1,"x":38,"y":14.2},{"p":"E","s":"CMA","w":"thin","g":1,"x":36,"y":13.8},{"p":"E","s":"CMA","w":"thin","g":1,"x":34,"y":13.3},{"p":"E","s":"CMA","w":"thin","g":1,"x":32,"y":12.8},{"p":"E","s":"CMA","w":"thin","g":1,"x":29.9,"y":12.4},{"p":"E","s":"CMA","w":"thin","g":1,"x":27.8,"y":12.2},{"p":"E","s":"CMA","w":"thin","g":1,"x":25.8,"y":11.8},{"p":"E","s":"CMA","w":"thin","g":1,"x":24,"y":11.7},{"p":"E","s":"CMA","w":"thin","g":1,"x":21.8,"y":11.8},{"p":"E","s":"CMA","w":"thin","g":1,"x":21,"y":11.8},
    {"p":"E","s":"CMA","w":"thick","g":2,"x":21,"y":11.8},{"p":"E","s":"CMA","w":"thick","g":2,"x":19.5,"y":11.9},{"p":"E","s":"CMA","w":"thick","g":2,"x":18,"y":12.0},{"p":"E","s":"CMA","w":"thick","g":2,"x":16.9,"y":12.1},
    {"p":"E","s":"CMA","w":"thin","g":3,"x":16.9,"y":12.1},{"p":"E","s":"CMA","w":"thin","g":3,"x":15,"y":12.3},{"p":"E","s":"CMA","w":"thin","g":3,"x":13.6,"y":12.4},{"p":"E","s":"CMA","w":"thin","g":3,"x":11.6,"y":12.6},{"p":"E","s":"CMA","w":"thin","g":3,"x":9.6,"y":13.0},{"p":"E","s":"CMA","w":"thin","g":3,"x":7.5,"y":13.3},{"p":"E","s":"CMA","w":"thin","g":3,"x":5.5,"y":13.6},{"p":"E","s":"CMA","w":"thin","g":3,"x":3,"y":14.1},{"p":"E","s":"CMA","w":"thin","g":3,"x":1,"y":14.5},{"p":"E","s":"CMA","w":"thin","g":3,"x":0,"y":14.8},
    {"p":"E","s":"NCEP","w":"thin","g":1,"x":44.1,"y":24.4},{"p":"E","s":"NCEP","w":"thin","g":1,"x":42.9,"y":22.6},{"p":"E","s":"NCEP","w":"thin","g":1,"x":41.3,"y":19.8},{"p":"E","s":"NCEP","w":"thin","g":1,"x":40.5,"y":19.3},{"p":"E","s":"NCEP","w":"thin","g":1,"x":39.6,"y":18.3},{"p":"E","s":"NCEP","w":"thin","g":1,"x":38.8,"y":17.5},{"p":"E","s":"NCEP","w":"thin","g":1,"x":38,"y":16.7},{"p":"E","s":"NCEP","w":"thin","g":1,"x":37.2,"y":16.0},{"p":"E","s":"NCEP","w":"thin","g":1,"x":36.4,"y":15.8},{"p":"E","s":"NCEP","w":"thin","g":1,"x":35.6,"y":14.6},
    {"p":"E","s":"NCEP","w":"thick","g":2,"x":35.6,"y":14.6},{"p":"E","s":"NCEP","w":"thick","g":2,"x":34,"y":13.9},{"p":"E","s":"NCEP","w":"thick","g":2,"x":32.8,"y":12.7},{"p":"E","s":"NCEP","w":"thick","g":2,"x":31.5,"y":11.5},{"p":"E","s":"NCEP","w":"thick","g":2,"x":29.9,"y":10.8},{"p":"E","s":"NCEP","w":"thick","g":2,"x":28.3,"y":10.2},{"p":"E","s":"NCEP","w":"thick","g":2,"x":26.6,"y":9.8},{"p":"E","s":"NCEP","w":"thick","g":2,"x":25,"y":9.4},{"p":"E","s":"NCEP","w":"thick","g":2,"x":23.4,"y":9.3},{"p":"E","s":"NCEP","w":"thick","g":2,"x":21.8,"y":9.4},{"p":"E","s":"NCEP","w":"thick","g":2,"x":20.2,"y":9.6},{"p":"E","s":"NCEP","w":"thick","g":2,"x":18.5,"y":9.6},{"p":"E","s":"NCEP","w":"thick","g":2,"x":17.7,"y":9.7},{"p":"E","s":"NCEP","w":"thick","g":2,"x":16.1,"y":9.8},{"p":"E","s":"NCEP","w":"thick","g":2,"x":15.3,"y":10.0},{"p":"E","s":"NCEP","w":"thick","g":2,"x":13.6,"y":10.6},{"p":"E","s":"NCEP","w":"thick","g":2,"x":12,"y":11.4},
    {"p":"E","s":"NCEP","w":"thin","g":3,"x":12,"y":11.4},{"p":"E","s":"NCEP","w":"thin","g":3,"x":10.5,"y":11.7},{"p":"E","s":"NCEP","w":"thin","g":3,"x":9.6,"y":11.8},{"p":"E","s":"NCEP","w":"thin","g":3,"x":7.5,"y":12.3},{"p":"E","s":"NCEP","w":"thin","g":3,"x":5.5,"y":13.0},{"p":"E","s":"NCEP","w":"thin","g":3,"x":3,"y":13.7},{"p":"E","s":"NCEP","w":"thin","g":3,"x":1,"y":14.3},{"p":"E","s":"NCEP","w":"thin","g":3,"x":0,"y":14.4},
    {"p":"E","s":"JMA","w":"thin","g":1,"x":32.2,"y":24.7},{"p":"E","s":"JMA","w":"thin","g":1,"x":31,"y":24.0},{"p":"E","s":"JMA","w":"thin","g":1,"x":29.9,"y":22.8},{"p":"E","s":"JMA","w":"thin","g":1,"x":29,"y":20.5},{"p":"E","s":"JMA","w":"thin","g":1,"x":28.3,"y":18.1},{"p":"E","s":"JMA","w":"thin","g":1,"x":27.1,"y":20.7},{"p":"E","s":"JMA","w":"thin","g":1,"x":25.8,"y":17.6},{"p":"E","s":"JMA","w":"thin","g":1,"x":24.2,"y":18.5},{"p":"E","s":"JMA","w":"thin","g":1,"x":23,"y":18.8},{"p":"E","s":"JMA","w":"thin","g":1,"x":21.8,"y":18.3},{"p":"E","s":"JMA","w":"thin","g":1,"x":20.5,"y":17.4},{"p":"E","s":"JMA","w":"thin","g":1,"x":19.3,"y":16.4},{"p":"E","s":"JMA","w":"thin","g":1,"x":18,"y":14.8},{"p":"E","s":"JMA","w":"thin","g":1,"x":16.9,"y":12.4},{"p":"E","s":"JMA","w":"thin","g":1,"x":15.7,"y":11.8},
    {"p":"E","s":"JMA","w":"thick","g":2,"x":15.7,"y":11.8},{"p":"E","s":"JMA","w":"thick","g":2,"x":14.5,"y":12.0},{"p":"E","s":"JMA","w":"thick","g":2,"x":13.6,"y":11.5},{"p":"E","s":"JMA","w":"thick","g":2,"x":12.4,"y":11.6},{"p":"E","s":"JMA","w":"thick","g":2,"x":11.2,"y":11.1},{"p":"E","s":"JMA","w":"thick","g":2,"x":10,"y":10.6},{"p":"E","s":"JMA","w":"thick","g":2,"x":8.8,"y":10.2},{"p":"E","s":"JMA","w":"thick","g":2,"x":7.5,"y":9.5},{"p":"E","s":"JMA","w":"thick","g":2,"x":6.3,"y":9.3},{"p":"E","s":"JMA","w":"thick","g":2,"x":5.5,"y":8.7},{"p":"E","s":"JMA","w":"thick","g":2,"x":4,"y":8.6},{"p":"E","s":"JMA","w":"thick","g":2,"x":2.3,"y":7.5},{"p":"E","s":"JMA","w":"thick","g":2,"x":1,"y":7.8},{"p":"E","s":"JMA","w":"thick","g":2,"x":0,"y":7.6},
    {"p":"E","s":"MME","w":"thin","g":1,"x":32.2,"y":11.1},{"p":"E","s":"MME","w":"thin","g":1,"x":31,"y":11.0},{"p":"E","s":"MME","w":"thin","g":1,"x":29.9,"y":10.8},
    {"p":"E","s":"MME","w":"thick","g":2,"x":29.9,"y":10.8},{"p":"E","s":"MME","w":"thick","g":2,"x":28,"y":10.1},{"p":"E","s":"MME","w":"thick","g":2,"x":25.8,"y":9.6},{"p":"E","s":"MME","w":"thick","g":2,"x":23.8,"y":9.3},{"p":"E","s":"MME","w":"thick","g":2,"x":21.8,"y":9.0},{"p":"E","s":"MME","w":"thick","g":2,"x":19.8,"y":9.0},{"p":"E","s":"MME","w":"thick","g":2,"x":17.7,"y":8.7},{"p":"E","s":"MME","w":"thick","g":2,"x":16.1,"y":9.0},{"p":"E","s":"MME","w":"thick","g":2,"x":15,"y":9.6},{"p":"E","s":"MME","w":"thick","g":2,"x":13.6,"y":9.9},{"p":"E","s":"MME","w":"thick","g":2,"x":12,"y":10.0},{"p":"E","s":"MME","w":"thick","g":2,"x":10.5,"y":10.5},{"p":"E","s":"MME","w":"thick","g":2,"x":9.6,"y":10.2},{"p":"E","s":"MME","w":"thick","g":2,"x":8.3,"y":10.4},{"p":"E","s":"MME","w":"thick","g":2,"x":7.1,"y":10.5},{"p":"E","s":"MME","w":"thick","g":2,"x":5.5,"y":10.8},{"p":"E","s":"MME","w":"thick","g":2,"x":4.5,"y":10.6},{"p":"E","s":"MME","w":"thick","g":2,"x":3.1,"y":11.5},{"p":"E","s":"MME","w":"thick","g":2,"x":2.2,"y":11.0},{"p":"E","s":"MME","w":"thick","g":2,"x":1.4,"y":12.4},{"p":"E","s":"MME","w":"thick","g":2,"x":0.7,"y":12.6},{"p":"E","s":"MME","w":"thick","g":2,"x":0,"y":12.1},

    {"p":"F","s":"CLIM","w":"thin","g":0,"x":58.5,"y":38.9},{"p":"F","s":"CLIM","w":"thin","g":0,"x":56.6,"y":37.7},{"p":"F","s":"CLIM","w":"thin","g":0,"x":54.9,"y":36.8},{"p":"F","s":"CLIM","w":"thin","g":0,"x":53,"y":36.9},{"p":"F","s":"CLIM","w":"thin","g":0,"x":51.5,"y":36.8},{"p":"F","s":"CLIM","w":"thin","g":0,"x":50,"y":36.2},{"p":"F","s":"CLIM","w":"thin","g":0,"x":48.1,"y":35.6},{"p":"F","s":"CLIM","w":"thin","g":0,"x":45.6,"y":35.4},{"p":"F","s":"CLIM","w":"thin","g":0,"x":43.1,"y":35.3},{"p":"F","s":"CLIM","w":"thin","g":0,"x":40.6,"y":34.6},{"p":"F","s":"CLIM","w":"thin","g":0,"x":38,"y":34.5},{"p":"F","s":"CLIM","w":"thin","g":0,"x":34.7,"y":34.3},{"p":"F","s":"CLIM","w":"thin","g":0,"x":30.5,"y":34.0},{"p":"F","s":"CLIM","w":"thin","g":0,"x":26.3,"y":33.7},{"p":"F","s":"CLIM","w":"thin","g":0,"x":22.1,"y":33.4},{"p":"F","s":"CLIM","w":"thin","g":0,"x":17.8,"y":32.8},{"p":"F","s":"CLIM","w":"thin","g":0,"x":13.6,"y":32.3},{"p":"F","s":"CLIM","w":"thin","g":0,"x":9.4,"y":32.1},{"p":"F","s":"CLIM","w":"thin","g":0,"x":7,"y":31.8},{"p":"F","s":"CLIM","w":"thin","g":0,"x":5.2,"y":31.5},{"p":"F","s":"CLIM","w":"thin","g":0,"x":2.7,"y":31.5},{"p":"F","s":"CLIM","w":"thin","g":0,"x":1.2,"y":31.0},{"p":"F","s":"CLIM","w":"thin","g":0,"x":0,"y":30.6},
    {"p":"F","s":"CMA","w":"thick","g":1,"x":58.5,"y":32.7},{"p":"F","s":"CMA","w":"thick","g":1,"x":57,"y":32.6},{"p":"F","s":"CMA","w":"thick","g":1,"x":55.7,"y":32.4},{"p":"F","s":"CMA","w":"thick","g":1,"x":54.5,"y":32.7},{"p":"F","s":"CMA","w":"thick","g":1,"x":53,"y":31.6},{"p":"F","s":"CMA","w":"thick","g":1,"x":51.5,"y":30.6},{"p":"F","s":"CMA","w":"thick","g":1,"x":50.2,"y":30.2},{"p":"F","s":"CMA","w":"thick","g":1,"x":49,"y":29.7},{"p":"F","s":"CMA","w":"thick","g":1,"x":47.6,"y":29.2},{"p":"F","s":"CMA","w":"thick","g":1,"x":45.6,"y":28.1},{"p":"F","s":"CMA","w":"thick","g":1,"x":44.3,"y":27.6},{"p":"F","s":"CMA","w":"thick","g":1,"x":43.1,"y":27.5},{"p":"F","s":"CMA","w":"thick","g":1,"x":41.8,"y":27.2},{"p":"F","s":"CMA","w":"thick","g":1,"x":40.6,"y":25.4},{"p":"F","s":"CMA","w":"thick","g":1,"x":39.3,"y":24.3},{"p":"F","s":"CMA","w":"thick","g":1,"x":38.1,"y":23.2},{"p":"F","s":"CMA","w":"thick","g":1,"x":36.4,"y":22.3},{"p":"F","s":"CMA","w":"thick","g":1,"x":34.7,"y":21.6},{"p":"F","s":"CMA","w":"thick","g":1,"x":33.4,"y":20.9},{"p":"F","s":"CMA","w":"thick","g":1,"x":32.2,"y":20.4},{"p":"F","s":"CMA","w":"thick","g":1,"x":30.9,"y":19.8},{"p":"F","s":"CMA","w":"thick","g":1,"x":29.6,"y":19.1},{"p":"F","s":"CMA","w":"thick","g":1,"x":28,"y":18.5},{"p":"F","s":"CMA","w":"thick","g":1,"x":26.3,"y":17.9},{"p":"F","s":"CMA","w":"thick","g":1,"x":24.6,"y":18.5},{"p":"F","s":"CMA","w":"thick","g":1,"x":23.3,"y":18.6},{"p":"F","s":"CMA","w":"thick","g":1,"x":22.1,"y":18.8},{"p":"F","s":"CMA","w":"thick","g":1,"x":20.8,"y":18.4},{"p":"F","s":"CMA","w":"thick","g":1,"x":19.6,"y":18.5},{"p":"F","s":"CMA","w":"thick","g":1,"x":17.8,"y":19.1},{"p":"F","s":"CMA","w":"thick","g":1,"x":16.5,"y":19.6},{"p":"F","s":"CMA","w":"thick","g":1,"x":15.3,"y":19.8},{"p":"F","s":"CMA","w":"thick","g":1,"x":14,"y":20.0},{"p":"F","s":"CMA","w":"thick","g":1,"x":12.8,"y":20.4},{"p":"F","s":"CMA","w":"thick","g":1,"x":11,"y":21.0},{"p":"F","s":"CMA","w":"thick","g":1,"x":9.4,"y":21.9},{"p":"F","s":"CMA","w":"thick","g":1,"x":8.1,"y":22.3},{"p":"F","s":"CMA","w":"thick","g":1,"x":6.9,"y":23.2},{"p":"F","s":"CMA","w":"thick","g":1,"x":5.2,"y":23.8},{"p":"F","s":"CMA","w":"thick","g":1,"x":3.5,"y":24.4},{"p":"F","s":"CMA","w":"thick","g":1,"x":1.5,"y":25.0},{"p":"F","s":"CMA","w":"thick","g":1,"x":0,"y":25.6},
    {"p":"F","s":"NCEP","w":"thin","g":1,"x":44.4,"y":35.6},{"p":"F","s":"NCEP","w":"thin","g":1,"x":42.9,"y":34.5},{"p":"F","s":"NCEP","w":"thin","g":1,"x":41.4,"y":33.1},{"p":"F","s":"NCEP","w":"thin","g":1,"x":39.7,"y":31.4},{"p":"F","s":"NCEP","w":"thin","g":1,"x":38.1,"y":29.7},{"p":"F","s":"NCEP","w":"thin","g":1,"x":36.4,"y":28.0},{"p":"F","s":"NCEP","w":"thin","g":1,"x":34.7,"y":26.3},{"p":"F","s":"NCEP","w":"thin","g":1,"x":33.8,"y":25.6},
    {"p":"F","s":"NCEP","w":"thick","g":2,"x":33.8,"y":25.6},{"p":"F","s":"NCEP","w":"thick","g":2,"x":32.2,"y":25.0},{"p":"F","s":"NCEP","w":"thick","g":2,"x":30.9,"y":24.1},{"p":"F","s":"NCEP","w":"thick","g":2,"x":29.6,"y":23.2},{"p":"F","s":"NCEP","w":"thick","g":2,"x":28,"y":21.9},{"p":"F","s":"NCEP","w":"thick","g":2,"x":26.3,"y":20.7},{"p":"F","s":"NCEP","w":"thick","g":2,"x":24.2,"y":19.3},{"p":"F","s":"NCEP","w":"thick","g":2,"x":22.1,"y":17.9},{"p":"F","s":"NCEP","w":"thick","g":2,"x":20,"y":16.4},{"p":"F","s":"NCEP","w":"thick","g":2,"x":17.8,"y":14.8},{"p":"F","s":"NCEP","w":"thick","g":2,"x":15.7,"y":13.7},{"p":"F","s":"NCEP","w":"thick","g":2,"x":13.6,"y":12.7},{"p":"F","s":"NCEP","w":"thick","g":2,"x":11.5,"y":11.7},{"p":"F","s":"NCEP","w":"thick","g":2,"x":9.4,"y":10.8},{"p":"F","s":"NCEP","w":"thick","g":2,"x":7.3,"y":10.3},{"p":"F","s":"NCEP","w":"thick","g":2,"x":5.2,"y":9.9},{"p":"F","s":"NCEP","w":"thick","g":2,"x":3,"y":9.6},{"p":"F","s":"NCEP","w":"thick","g":2,"x":1,"y":9.4},{"p":"F","s":"NCEP","w":"thick","g":2,"x":0,"y":9.1},
    {"p":"F","s":"JMA","w":"thick","g":1,"x":32.4,"y":25.6},{"p":"F","s":"JMA","w":"thick","g":1,"x":30.9,"y":25.9},{"p":"F","s":"JMA","w":"thick","g":1,"x":30.1,"y":24.4},{"p":"F","s":"JMA","w":"thick","g":1,"x":28.8,"y":25.0},{"p":"F","s":"JMA","w":"thick","g":1,"x":28,"y":23.2},{"p":"F","s":"JMA","w":"thick","g":1,"x":27.1,"y":21.6},{"p":"F","s":"JMA","w":"thick","g":1,"x":25.4,"y":20.7},{"p":"F","s":"JMA","w":"thick","g":1,"x":24.6,"y":19.2},{"p":"F","s":"JMA","w":"thick","g":1,"x":23.8,"y":17.3},{"p":"F","s":"JMA","w":"thick","g":1,"x":22.1,"y":17.6},{"p":"F","s":"JMA","w":"thick","g":1,"x":20.4,"y":15.8},{"p":"F","s":"JMA","w":"thick","g":1,"x":18.7,"y":13.9},{"p":"F","s":"JMA","w":"thick","g":1,"x":17.5,"y":12.5},{"p":"F","s":"JMA","w":"thick","g":1,"x":16.2,"y":11.5},{"p":"F","s":"JMA","w":"thick","g":1,"x":13.6,"y":11.5},{"p":"F","s":"JMA","w":"thick","g":1,"x":12.8,"y":13.3},{"p":"F","s":"JMA","w":"thick","g":1,"x":11.5,"y":9.6},{"p":"F","s":"JMA","w":"thick","g":1,"x":10.4,"y":10.2},{"p":"F","s":"JMA","w":"thick","g":1,"x":9.4,"y":9.9},{"p":"F","s":"JMA","w":"thick","g":1,"x":8.3,"y":9.0},{"p":"F","s":"JMA","w":"thick","g":1,"x":7.3,"y":7.8},{"p":"F","s":"JMA","w":"thick","g":1,"x":5.2,"y":8.1},{"p":"F","s":"JMA","w":"thick","g":1,"x":3.5,"y":7.9},{"p":"F","s":"JMA","w":"thick","g":1,"x":2.7,"y":10.2},{"p":"F","s":"JMA","w":"thick","g":1,"x":1,"y":7.1},{"p":"F","s":"JMA","w":"thick","g":1,"x":0,"y":7.4},
    {"p":"F","s":"MME","w":"thick","g":1,"x":31.7,"y":19.8},{"p":"F","s":"MME","w":"thick","g":1,"x":30.5,"y":18.7},{"p":"F","s":"MME","w":"thick","g":1,"x":29.6,"y":17.6},{"p":"F","s":"MME","w":"thick","g":1,"x":27.9,"y":16.7},{"p":"F","s":"MME","w":"thick","g":1,"x":26.3,"y":17.0},{"p":"F","s":"MME","w":"thick","g":1,"x":25,"y":16.0},{"p":"F","s":"MME","w":"thick","g":1,"x":23.8,"y":15.2},{"p":"F","s":"MME","w":"thick","g":1,"x":22.5,"y":14.5},{"p":"F","s":"MME","w":"thick","g":1,"x":21.2,"y":13.9},{"p":"F","s":"MME","w":"thick","g":1,"x":19.5,"y":14.2},{"p":"F","s":"MME","w":"thick","g":1,"x":17.8,"y":12.7},{"p":"F","s":"MME","w":"thick","g":1,"x":15.7,"y":12.4},{"p":"F","s":"MME","w":"thick","g":1,"x":13.6,"y":12.1},{"p":"F","s":"MME","w":"thick","g":1,"x":11.5,"y":11.8},{"p":"F","s":"MME","w":"thick","g":1,"x":9.4,"y":11.5},{"p":"F","s":"MME","w":"thick","g":1,"x":7.3,"y":11.3},{"p":"F","s":"MME","w":"thick","g":1,"x":5.2,"y":11.5},{"p":"F","s":"MME","w":"thick","g":1,"x":3.5,"y":11.4},{"p":"F","s":"MME","w":"thick","g":1,"x":2.7,"y":11.8},{"p":"F","s":"MME","w":"thick","g":1,"x":1,"y":10.7},{"p":"F","s":"MME","w":"thick","g":1,"x":0,"y":11.2},

    {"p":"G","s":"CLIM","w":"thin","g":0,"x":58.5,"y":23.3},{"p":"G","s":"CLIM","w":"thin","g":0,"x":54.3,"y":23.2},{"p":"G","s":"CLIM","w":"thin","g":0,"x":52,"y":23.0},{"p":"G","s":"CLIM","w":"thin","g":0,"x":50.2,"y":22.6},{"p":"G","s":"CLIM","w":"thin","g":0,"x":48,"y":22.3},{"p":"G","s":"CLIM","w":"thin","g":0,"x":46.1,"y":22.0},{"p":"G","s":"CLIM","w":"thin","g":0,"x":44,"y":21.5},{"p":"G","s":"CLIM","w":"thin","g":0,"x":42.1,"y":21.2},{"p":"G","s":"CLIM","w":"thin","g":0,"x":38,"y":21.1},{"p":"G","s":"CLIM","w":"thin","g":0,"x":34,"y":21.1},{"p":"G","s":"CLIM","w":"thin","g":0,"x":29.9,"y":20.7},{"p":"G","s":"CLIM","w":"thin","g":0,"x":25.8,"y":20.3},{"p":"G","s":"CLIM","w":"thin","g":0,"x":21.8,"y":20.4},{"p":"G","s":"CLIM","w":"thin","g":0,"x":17.7,"y":20.7},{"p":"G","s":"CLIM","w":"thin","g":0,"x":13.6,"y":20.7},{"p":"G","s":"CLIM","w":"thin","g":0,"x":9.6,"y":20.9},{"p":"G","s":"CLIM","w":"thin","g":0,"x":5.5,"y":21.5},{"p":"G","s":"CLIM","w":"thin","g":0,"x":3,"y":21.8},{"p":"G","s":"CLIM","w":"thin","g":0,"x":0,"y":22.0},
    {"p":"G","s":"CMA","w":"thin","g":1,"x":58.5,"y":26.9},{"p":"G","s":"CMA","w":"thin","g":1,"x":57,"y":26.2},{"p":"G","s":"CMA","w":"thin","g":1,"x":55,"y":24.9},{"p":"G","s":"CMA","w":"thin","g":1,"x":52.6,"y":24.1},{"p":"G","s":"CMA","w":"thin","g":1,"x":51.5,"y":23.4},{"p":"G","s":"CMA","w":"thin","g":1,"x":50.6,"y":22.6},
    {"p":"G","s":"CMA","w":"thick","g":2,"x":50.6,"y":22.6},{"p":"G","s":"CMA","w":"thick","g":2,"x":49.5,"y":21.2},{"p":"G","s":"CMA","w":"thick","g":2,"x":49,"y":20.7},{"p":"G","s":"CMA","w":"thick","g":2,"x":47.5,"y":20.4},{"p":"G","s":"CMA","w":"thick","g":2,"x":46.1,"y":19.8},{"p":"G","s":"CMA","w":"thick","g":2,"x":44,"y":18.5},{"p":"G","s":"CMA","w":"thick","g":2,"x":42.1,"y":17.3},{"p":"G","s":"CMA","w":"thick","g":2,"x":40,"y":15.9},{"p":"G","s":"CMA","w":"thick","g":2,"x":38,"y":14.5},{"p":"G","s":"CMA","w":"thick","g":2,"x":36.4,"y":14.2},{"p":"G","s":"CMA","w":"thick","g":2,"x":35,"y":14.3},{"p":"G","s":"CMA","w":"thick","g":2,"x":33.2,"y":13.2},{"p":"G","s":"CMA","w":"thick","g":2,"x":31.5,"y":13.3},{"p":"G","s":"CMA","w":"thick","g":2,"x":29.9,"y":13.3},{"p":"G","s":"CMA","w":"thick","g":2,"x":27.8,"y":13.3},{"p":"G","s":"CMA","w":"thick","g":2,"x":25.8,"y":13.4},{"p":"G","s":"CMA","w":"thick","g":2,"x":23.4,"y":13.5},{"p":"G","s":"CMA","w":"thick","g":2,"x":21.8,"y":13.9},{"p":"G","s":"CMA","w":"thick","g":2,"x":20,"y":14.6},{"p":"G","s":"CMA","w":"thick","g":2,"x":18.5,"y":14.8},{"p":"G","s":"CMA","w":"thick","g":2,"x":17.3,"y":15.2},{"p":"G","s":"CMA","w":"thick","g":2,"x":16.1,"y":16.2},{"p":"G","s":"CMA","w":"thick","g":2,"x":14.8,"y":16.9},{"p":"G","s":"CMA","w":"thick","g":2,"x":13.6,"y":17.6},{"p":"G","s":"CMA","w":"thick","g":2,"x":11.6,"y":18.5},{"p":"G","s":"CMA","w":"thick","g":2,"x":9.6,"y":19.5},{"p":"G","s":"CMA","w":"thick","g":2,"x":8.3,"y":19.6},{"p":"G","s":"CMA","w":"thick","g":2,"x":7.1,"y":19.9},{"p":"G","s":"CMA","w":"thick","g":2,"x":5.5,"y":20.7},{"p":"G","s":"CMA","w":"thick","g":2,"x":3.9,"y":21.6},
    {"p":"G","s":"CMA","w":"thin","g":3,"x":3.9,"y":21.6},{"p":"G","s":"CMA","w":"thin","g":3,"x":2.3,"y":22.0},{"p":"G","s":"CMA","w":"thin","g":3,"x":1,"y":22.3},{"p":"G","s":"CMA","w":"thin","g":3,"x":0,"y":23.1},
    {"p":"G","s":"NCEP","w":"thin","g":1,"x":44.1,"y":29.7},{"p":"G","s":"NCEP","w":"thin","g":1,"x":42.9,"y":28.7},{"p":"G","s":"NCEP","w":"thin","g":1,"x":41.3,"y":25.3},{"p":"G","s":"NCEP","w":"thin","g":1,"x":40.3,"y":26.9},{"p":"G","s":"NCEP","w":"thin","g":1,"x":39.2,"y":24.7},{"p":"G","s":"NCEP","w":"thin","g":1,"x":38,"y":26.3},{"p":"G","s":"NCEP","w":"thin","g":1,"x":37.2,"y":24.1},{"p":"G","s":"NCEP","w":"thin","g":1,"x":36.5,"y":23.8},
    {"p":"G","s":"NCEP","w":"thick","g":2,"x":36.5,"y":23.8},{"p":"G","s":"NCEP","w":"thick","g":2,"x":35.5,"y":23.1},{"p":"G","s":"NCEP","w":"thick","g":2,"x":34,"y":21.6},{"p":"G","s":"NCEP","w":"thick","g":2,"x":32,"y":21.3},{"p":"G","s":"NCEP","w":"thick","g":2,"x":31,"y":20.8},{"p":"G","s":"NCEP","w":"thick","g":2,"x":29.9,"y":19.1},{"p":"G","s":"NCEP","w":"thick","g":2,"x":28.7,"y":18.8},{"p":"G","s":"NCEP","w":"thick","g":2,"x":27.9,"y":17.0},{"p":"G","s":"NCEP","w":"thick","g":2,"x":26.6,"y":17.3},{"p":"G","s":"NCEP","w":"thick","g":2,"x":25.4,"y":14.2},{"p":"G","s":"NCEP","w":"thick","g":2,"x":24.2,"y":14.8},{"p":"G","s":"NCEP","w":"thick","g":2,"x":22.6,"y":13.9},{"p":"G","s":"NCEP","w":"thick","g":2,"x":21.4,"y":14.5},{"p":"G","s":"NCEP","w":"thick","g":2,"x":20.2,"y":14.5},{"p":"G","s":"NCEP","w":"thick","g":2,"x":18.8,"y":13.9},{"p":"G","s":"NCEP","w":"thick","g":2,"x":17.7,"y":13.9},{"p":"G","s":"NCEP","w":"thick","g":2,"x":16.1,"y":13.4},{"p":"G","s":"NCEP","w":"thick","g":2,"x":14.8,"y":14.1},{"p":"G","s":"NCEP","w":"thick","g":2,"x":13.6,"y":14.5},{"p":"G","s":"NCEP","w":"thick","g":2,"x":11.6,"y":15.0},{"p":"G","s":"NCEP","w":"thick","g":2,"x":9.6,"y":15.4},{"p":"G","s":"NCEP","w":"thick","g":2,"x":7.5,"y":16.1},{"p":"G","s":"NCEP","w":"thick","g":2,"x":5.5,"y":16.7},{"p":"G","s":"NCEP","w":"thick","g":2,"x":3.1,"y":17.3},{"p":"G","s":"NCEP","w":"thick","g":2,"x":1.5,"y":17.8},{"p":"G","s":"NCEP","w":"thick","g":2,"x":0,"y":18.2},
    {"p":"G","s":"JMA","w":"thin","g":1,"x":32.2,"y":23.1},{"p":"G","s":"JMA","w":"thin","g":1,"x":30.7,"y":20.7},{"p":"G","s":"JMA","w":"thin","g":1,"x":29.5,"y":21.9},{"p":"G","s":"JMA","w":"thin","g":1,"x":28.3,"y":19.5},{"p":"G","s":"JMA","w":"thin","g":1,"x":27.5,"y":20.7},{"p":"G","s":"JMA","w":"thin","g":1,"x":26.3,"y":18.5},
    {"p":"G","s":"JMA","w":"thick","g":2,"x":26.3,"y":18.5},{"p":"G","s":"JMA","w":"thick","g":2,"x":25,"y":17.9},{"p":"G","s":"JMA","w":"thick","g":2,"x":23.4,"y":16.1},{"p":"G","s":"JMA","w":"thick","g":2,"x":21.8,"y":16.4},{"p":"G","s":"JMA","w":"thick","g":2,"x":21,"y":17.6},{"p":"G","s":"JMA","w":"thick","g":2,"x":20.2,"y":14.5},{"p":"G","s":"JMA","w":"thick","g":2,"x":18.5,"y":13.3},{"p":"G","s":"JMA","w":"thick","g":2,"x":16.9,"y":12.4},{"p":"G","s":"JMA","w":"thick","g":2,"x":15.2,"y":11.1},{"p":"G","s":"JMA","w":"thick","g":2,"x":13.6,"y":10.8},{"p":"G","s":"JMA","w":"thick","g":2,"x":12.4,"y":10.2},{"p":"G","s":"JMA","w":"thick","g":2,"x":11.2,"y":9.6},{"p":"G","s":"JMA","w":"thick","g":2,"x":9.6,"y":9.0},{"p":"G","s":"JMA","w":"thick","g":2,"x":7.1,"y":8.7},{"p":"G","s":"JMA","w":"thick","g":2,"x":4.6,"y":8.1},{"p":"G","s":"JMA","w":"thick","g":2,"x":3,"y":8.7},{"p":"G","s":"JMA","w":"thick","g":2,"x":1.5,"y":8.3},{"p":"G","s":"JMA","w":"thick","g":2,"x":0,"y":7.4},
    {"p":"G","s":"MME","w":"thick","g":1,"x":32.2,"y":11.8},{"p":"G","s":"MME","w":"thick","g":1,"x":30.3,"y":12.4},{"p":"G","s":"MME","w":"thick","g":1,"x":29.5,"y":10.2},{"p":"G","s":"MME","w":"thick","g":1,"x":28.3,"y":10.8},{"p":"G","s":"MME","w":"thick","g":1,"x":26.6,"y":11.5},{"p":"G","s":"MME","w":"thick","g":1,"x":25.4,"y":9.0},{"p":"G","s":"MME","w":"thick","g":1,"x":24.2,"y":9.6},{"p":"G","s":"MME","w":"thick","g":1,"x":23,"y":9.0},{"p":"G","s":"MME","w":"thick","g":1,"x":21.8,"y":10.2},{"p":"G","s":"MME","w":"thick","g":1,"x":20.2,"y":9.9},{"p":"G","s":"MME","w":"thick","g":1,"x":18.5,"y":10.8},{"p":"G","s":"MME","w":"thick","g":1,"x":16.9,"y":10.4},{"p":"G","s":"MME","w":"thick","g":1,"x":15.2,"y":11.8},{"p":"G","s":"MME","w":"thick","g":1,"x":13.6,"y":11.8},{"p":"G","s":"MME","w":"thick","g":1,"x":12,"y":12.7},{"p":"G","s":"MME","w":"thick","g":1,"x":10.3,"y":14.8},{"p":"G","s":"MME","w":"thick","g":1,"x":8.8,"y":15.1},{"p":"G","s":"MME","w":"thick","g":1,"x":7.1,"y":15.8},{"p":"G","s":"MME","w":"thick","g":1,"x":5.5,"y":17.6},{"p":"G","s":"MME","w":"thick","g":1,"x":3.9,"y":17.3},{"p":"G","s":"MME","w":"thick","g":1,"x":2.3,"y":18.5},{"p":"G","s":"MME","w":"thick","g":1,"x":0,"y":19.1}
  ]},
  "columns": 2,
  "bounds": "flush",
  "spacing": {"row": 94.4, "column": 74.4},
  "title": {
    "text": "FIGURE 3 | Lead-time RMSE of rainy season onset date forecasts. The",
    "subtitle": [
      "figure shows results for (A) North American Monsoon, (B) South American",
      "Monsoon, (C) West African Monsoon, (D) East African Monsoon, (E) Indian",
      "Monsoon, (F) East Asian Monsoon, and (G) Northern Australian Monsoon.",
      "Lead-time 0 (zero) refers to the observed onset date. Thick lines show lead",
      "times where the RMSE of hindcasts is smaller than the RMSE related to the",
      "climatology and their difference is statistically significant at 5% level according",
      "to an f-test of the squared errors. The dashed line shows the RMSE in relation",
      "to the climatology for the CMA model grid for the sole purpose of visualization."
    ],
    "orient": "bottom", "anchor": "start", "frame": "bounds", "dx": -11,
    "offset": 31,
    "font": "Liberation Sans Narrow, Arial Narrow, DejaVu Sans Condensed, Liberation Sans", "fontSize": 17, "fontWeight": "bold", "color": "#000",
    "subtitleFont": "Liberation Sans Narrow, Arial Narrow, DejaVu Sans Condensed, Liberation Sans", "subtitleFontSize": 17, "subtitleColor": "#000", "subtitleFontWeight": "normal",
    "subtitleLineHeight": 25, "subtitlePadding": 8
  },
  "config": {
    "view": {"stroke": "#8a8a8a", "strokeWidth": 1},
    "font": "Liberation Sans",
    "axis": {"grid": false, "domain": false, "labelFont": "Liberation Sans", "labelFontSize": 17, "labelColor": "#000", "titleFont": "Liberation Sans", "titleFontSize": 17.5, "titleFontWeight": "normal", "titleColor": "#000", "tickColor": "#8a8a8a", "tickWidth": 1, "labelFlush": false, "labelOverlap": false},
    "legend": {"labelFont": "Liberation Sans", "labelFontSize": 16.5, "padding": 0}
  },
  "concat": [
    {
      "width": 239, "height": 224,
      "layer": [
        {
          "transform": [{"filter": "datum.p === 'A' && datum.s === 'CLIM'"}],
          "mark": {"type": "line", "color": "#000", "strokeWidth": 1.3, "clip": true},
          "encoding": {
            "x": {"field": "x", "type": "quantitative", "scale": {"domain": [58.5, 0], "nice": false, "zero": false}, "axis": {"orient": "bottom", "title": "Forecast Lead Time [day]", "tickCount": 100, "format": "d", "labelExpr": "datum.value % 10 === 0 ? datum.label : ''", "tickSize": {"condition": {"test": "datum.value % 10 === 0", "value": -7}, "value": -3}, "labelPadding": 12.5, "titlePadding": 0}},
            "y": {"field": "y", "type": "quantitative", "scale": {"domain": [-0.9, 40.6], "nice": false, "zero": false}, "axis": {"orient": "left", "title": "RMSE [day]", "tickCount": 80, "format": "d", "labelExpr": "datum.value % 10 === 0 ? datum.label : ''", "tickSize": {"condition": {"test": "datum.value % 10 === 0", "value": -7}, "value": -3}, "labelPadding": 9.5, "titlePadding": 8}},
            "strokeDash": {"field": "s", "type": "nominal", "scale": {"domain": ["CLIM"], "range": [[8, 5]]}, "legend": {"orient": "none", "legendX": 126, "legendY": 19, "title": null, "symbolType": "M-20,0H20", "symbolSize": 4, "symbolStrokeWidth": 1.3, "symbolStrokeColor": "#000", "labelOffset": 17, "labelColor": "#000"}}
          }
        },
        {
          "transform": [{"filter": "datum.p === 'A' && datum.s !== 'CLIM'"}],
          "mark": {"type": "line", "strokeJoin": "round", "clip": true},
          "encoding": {
            "x": {"field": "x", "type": "quantitative", "scale": {"domain": [58.5, 0], "nice": false, "zero": false}, "axis": {"orient": "top", "labels": false, "tickCount": 100, "tickSize": {"condition": {"test": "datum.value % 10 === 0", "value": -7}, "value": -3}, "title": "A", "titleX": -50, "titleY": -14, "titleAlign": "left", "titleBaseline": "alphabetic", "titleFontWeight": "bold", "titleFontSize": 18}},
            "y": {"field": "y", "type": "quantitative", "scale": {"domain": [-0.9, 40.6], "nice": false, "zero": false}, "axis": {"orient": "right", "labels": false, "tickCount": 80, "tickSize": {"condition": {"test": "datum.value % 10 === 0", "value": -7}, "value": -3}, "title": "N. American Monsoon", "titleAngle": 0, "titleX": -108, "titleY": -9, "titleAlign": "center", "titleBaseline": "alphabetic", "titleFontSize": 21}},
            "color": {"field": "s", "type": "nominal", "scale": {"domain": ["NCEP", "CMA", "JMA", "MME"], "range": ["#000000", "#1b1bb3", "#b8a01e", "#ff3f14"]}, "legend": {"orient": "none", "legendX": 23, "legendY": 138, "title": null, "symbolType": "M-20,0H20", "symbolSize": 4, "symbolStrokeWidth": 3.2, "labelOffset": 17, "rowPadding": 6, "labelColor": {"expr": "datum.value === 'NCEP' ? '#000000' : datum.value === 'CMA' ? '#1b1bb3' : datum.value === 'JMA' ? '#b8a01e' : '#ff3f14'"}}},
            "strokeWidth": {"field": "w", "type": "nominal", "scale": {"domain": ["thin", "thick"], "range": [1.2, 3.2]}, "legend": null},
            "detail": {"field": "g", "type": "nominal"}
          }
        }
      ],
      "resolve": {"axis": {"x": "independent", "y": "independent"}}
    },
    {
      "width": 232, "height": 224,
      "layer": [
        {
          "transform": [{"filter": "datum.p === 'B' && datum.s === 'CLIM'"}],
          "mark": {"type": "line", "color": "#000", "strokeWidth": 1.3, "strokeDash": [8, 5], "clip": true},
          "encoding": {
            "x": {"field": "x", "type": "quantitative", "scale": {"domain": [58.5, 0], "nice": false, "zero": false}, "axis": {"orient": "bottom", "title": "Forecast Lead Time [day]", "tickCount": 100, "format": "d", "labelExpr": "datum.value % 10 === 0 ? datum.label : ''", "tickSize": {"condition": {"test": "datum.value % 10 === 0", "value": -7}, "value": -3}, "labelPadding": 12.5, "titlePadding": 0}},
            "y": {"field": "y", "type": "quantitative", "scale": {"domain": [-0.9, 40.6], "nice": false, "zero": false}, "axis": {"orient": "left", "title": "RMSE [day]", "tickCount": 80, "format": "d", "labelExpr": "datum.value % 10 === 0 ? datum.label : ''", "tickSize": {"condition": {"test": "datum.value % 10 === 0", "value": -7}, "value": -3}, "labelPadding": 9.5, "titlePadding": 8}}
          }
        },
        {
          "transform": [{"filter": "datum.p === 'B' && datum.s !== 'CLIM'"}],
          "mark": {"type": "line", "strokeJoin": "round", "clip": true},
          "encoding": {
            "x": {"field": "x", "type": "quantitative", "scale": {"domain": [58.5, 0], "nice": false, "zero": false}, "axis": {"orient": "top", "labels": false, "tickCount": 100, "tickSize": {"condition": {"test": "datum.value % 10 === 0", "value": -7}, "value": -3}, "title": "B", "titleX": -45, "titleY": -14, "titleAlign": "left", "titleBaseline": "alphabetic", "titleFontWeight": "bold", "titleFontSize": 18}},
            "y": {"field": "y", "type": "quantitative", "scale": {"domain": [-0.9, 40.6], "nice": false, "zero": false}, "axis": {"orient": "right", "labels": false, "tickCount": 80, "tickSize": {"condition": {"test": "datum.value % 10 === 0", "value": -7}, "value": -3}, "title": "S. American Monsoon", "titleAngle": 0, "titleX": -105, "titleY": -9, "titleAlign": "center", "titleBaseline": "alphabetic", "titleFontSize": 21}},
            "color": {"field": "s", "type": "nominal", "scale": {"domain": ["NCEP", "CMA", "JMA", "MME"], "range": ["#000000", "#1b1bb3", "#b8a01e", "#ff3f14"]}, "legend": null},
            "strokeWidth": {"field": "w", "type": "nominal", "scale": {"domain": ["thin", "thick"], "range": [1.2, 3.2]}, "legend": null},
            "detail": {"field": "g", "type": "nominal"}
          }
        }
      ],
      "resolve": {"axis": {"x": "independent", "y": "independent"}}
    },
    {
      "width": 239, "height": 224,
      "layer": [
        {
          "transform": [{"filter": "datum.p === 'C' && datum.s === 'CLIM'"}],
          "mark": {"type": "line", "color": "#000", "strokeWidth": 1.3, "strokeDash": [8, 5], "clip": true},
          "encoding": {
            "x": {"field": "x", "type": "quantitative", "scale": {"domain": [58.5, 0], "nice": false, "zero": false}, "axis": {"orient": "bottom", "title": "Forecast Lead Time [day]", "tickCount": 100, "format": "d", "labelExpr": "datum.value % 10 === 0 ? datum.label : ''", "tickSize": {"condition": {"test": "datum.value % 10 === 0", "value": -7}, "value": -3}, "labelPadding": 12.5, "titlePadding": 0}},
            "y": {"field": "y", "type": "quantitative", "scale": {"domain": [-0.9, 40.6], "nice": false, "zero": false}, "axis": {"orient": "left", "title": "RMSE [day]", "tickCount": 80, "format": "d", "labelExpr": "datum.value % 10 === 0 ? datum.label : ''", "tickSize": {"condition": {"test": "datum.value % 10 === 0", "value": -7}, "value": -3}, "labelPadding": 9.5, "titlePadding": 8}}
          }
        },
        {
          "transform": [{"filter": "datum.p === 'C' && datum.s !== 'CLIM'"}],
          "mark": {"type": "line", "strokeJoin": "round", "clip": true},
          "encoding": {
            "x": {"field": "x", "type": "quantitative", "scale": {"domain": [58.5, 0], "nice": false, "zero": false}, "axis": {"orient": "top", "labels": false, "tickCount": 100, "tickSize": {"condition": {"test": "datum.value % 10 === 0", "value": -7}, "value": -3}, "title": "C", "titleX": -50, "titleY": -14, "titleAlign": "left", "titleBaseline": "alphabetic", "titleFontWeight": "bold", "titleFontSize": 18}},
            "y": {"field": "y", "type": "quantitative", "scale": {"domain": [-0.9, 40.6], "nice": false, "zero": false}, "axis": {"orient": "right", "labels": false, "tickCount": 80, "tickSize": {"condition": {"test": "datum.value % 10 === 0", "value": -7}, "value": -3}, "title": "W. African Monsoon", "titleAngle": 0, "titleX": -108, "titleY": -9, "titleAlign": "center", "titleBaseline": "alphabetic", "titleFontSize": 21}},
            "color": {"field": "s", "type": "nominal", "scale": {"domain": ["NCEP", "CMA", "JMA", "MME"], "range": ["#000000", "#1b1bb3", "#b8a01e", "#ff3f14"]}, "legend": null},
            "strokeWidth": {"field": "w", "type": "nominal", "scale": {"domain": ["thin", "thick"], "range": [1.2, 3.2]}, "legend": null},
            "detail": {"field": "g", "type": "nominal"}
          }
        }
      ],
      "resolve": {"axis": {"x": "independent", "y": "independent"}}
    },
    {
      "width": 232, "height": 224,
      "layer": [
        {
          "transform": [{"filter": "datum.p === 'D' && datum.s === 'CLIM'"}],
          "mark": {"type": "line", "color": "#000", "strokeWidth": 1.3, "strokeDash": [8, 5], "clip": true},
          "encoding": {
            "x": {"field": "x", "type": "quantitative", "scale": {"domain": [58.5, 0], "nice": false, "zero": false}, "axis": {"orient": "bottom", "title": "Forecast Lead Time [day]", "tickCount": 100, "format": "d", "labelExpr": "datum.value % 10 === 0 ? datum.label : ''", "tickSize": {"condition": {"test": "datum.value % 10 === 0", "value": -7}, "value": -3}, "labelPadding": 12.5, "titlePadding": 0}},
            "y": {"field": "y", "type": "quantitative", "scale": {"domain": [-0.9, 40.6], "nice": false, "zero": false}, "axis": {"orient": "left", "title": "RMSE [day]", "tickCount": 80, "format": "d", "labelExpr": "datum.value % 10 === 0 ? datum.label : ''", "tickSize": {"condition": {"test": "datum.value % 10 === 0", "value": -7}, "value": -3}, "labelPadding": 9.5, "titlePadding": 8}}
          }
        },
        {
          "transform": [{"filter": "datum.p === 'D' && datum.s !== 'CLIM'"}],
          "mark": {"type": "line", "strokeJoin": "round", "clip": true},
          "encoding": {
            "x": {"field": "x", "type": "quantitative", "scale": {"domain": [58.5, 0], "nice": false, "zero": false}, "axis": {"orient": "top", "labels": false, "tickCount": 100, "tickSize": {"condition": {"test": "datum.value % 10 === 0", "value": -7}, "value": -3}, "title": "D", "titleX": -45, "titleY": -14, "titleAlign": "left", "titleBaseline": "alphabetic", "titleFontWeight": "bold", "titleFontSize": 18}},
            "y": {"field": "y", "type": "quantitative", "scale": {"domain": [-0.9, 40.6], "nice": false, "zero": false}, "axis": {"orient": "right", "labels": false, "tickCount": 80, "tickSize": {"condition": {"test": "datum.value % 10 === 0", "value": -7}, "value": -3}, "title": "E. African Monsoon", "titleAngle": 0, "titleX": -105, "titleY": -9, "titleAlign": "center", "titleBaseline": "alphabetic", "titleFontSize": 21}},
            "color": {"field": "s", "type": "nominal", "scale": {"domain": ["NCEP", "CMA", "JMA", "MME"], "range": ["#000000", "#1b1bb3", "#b8a01e", "#ff3f14"]}, "legend": null},
            "strokeWidth": {"field": "w", "type": "nominal", "scale": {"domain": ["thin", "thick"], "range": [1.2, 3.2]}, "legend": null},
            "detail": {"field": "g", "type": "nominal"}
          }
        }
      ],
      "resolve": {"axis": {"x": "independent", "y": "independent"}}
    },
    {
      "width": 239, "height": 224,
      "layer": [
        {
          "transform": [{"filter": "datum.p === 'E' && datum.s === 'CLIM'"}],
          "mark": {"type": "line", "color": "#000", "strokeWidth": 1.3, "strokeDash": [8, 5], "clip": true},
          "encoding": {
            "x": {"field": "x", "type": "quantitative", "scale": {"domain": [58.5, 0], "nice": false, "zero": false}, "axis": {"orient": "bottom", "title": "Forecast Lead Time [day]", "tickCount": 100, "format": "d", "labelExpr": "datum.value % 10 === 0 ? datum.label : ''", "tickSize": {"condition": {"test": "datum.value % 10 === 0", "value": -7}, "value": -3}, "labelPadding": 12.5, "titlePadding": 0}},
            "y": {"field": "y", "type": "quantitative", "scale": {"domain": [-0.9, 40.6], "nice": false, "zero": false}, "axis": {"orient": "left", "title": "RMSE [day]", "tickCount": 80, "format": "d", "labelExpr": "datum.value % 10 === 0 ? datum.label : ''", "tickSize": {"condition": {"test": "datum.value % 10 === 0", "value": -7}, "value": -3}, "labelPadding": 9.5, "titlePadding": 8}}
          }
        },
        {
          "transform": [{"filter": "datum.p === 'E' && datum.s !== 'CLIM'"}],
          "mark": {"type": "line", "strokeJoin": "round", "clip": true},
          "encoding": {
            "x": {"field": "x", "type": "quantitative", "scale": {"domain": [58.5, 0], "nice": false, "zero": false}, "axis": {"orient": "top", "labels": false, "tickCount": 100, "tickSize": {"condition": {"test": "datum.value % 10 === 0", "value": -7}, "value": -3}, "title": "E", "titleX": -50, "titleY": -14, "titleAlign": "left", "titleBaseline": "alphabetic", "titleFontWeight": "bold", "titleFontSize": 18}},
            "y": {"field": "y", "type": "quantitative", "scale": {"domain": [-0.9, 40.6], "nice": false, "zero": false}, "axis": {"orient": "right", "labels": false, "tickCount": 80, "tickSize": {"condition": {"test": "datum.value % 10 === 0", "value": -7}, "value": -3}, "title": "Indian Monsoon", "titleAngle": 0, "titleX": -108, "titleY": -9, "titleAlign": "center", "titleBaseline": "alphabetic", "titleFontSize": 21}},
            "color": {"field": "s", "type": "nominal", "scale": {"domain": ["NCEP", "CMA", "JMA", "MME"], "range": ["#000000", "#1b1bb3", "#b8a01e", "#ff3f14"]}, "legend": null},
            "strokeWidth": {"field": "w", "type": "nominal", "scale": {"domain": ["thin", "thick"], "range": [1.2, 3.2]}, "legend": null},
            "detail": {"field": "g", "type": "nominal"}
          }
        }
      ],
      "resolve": {"axis": {"x": "independent", "y": "independent"}}
    },
    {
      "width": 232, "height": 224,
      "layer": [
        {
          "transform": [{"filter": "datum.p === 'F' && datum.s === 'CLIM'"}],
          "mark": {"type": "line", "color": "#000", "strokeWidth": 1.3, "strokeDash": [8, 5], "clip": true},
          "encoding": {
            "x": {"field": "x", "type": "quantitative", "scale": {"domain": [58.5, 0], "nice": false, "zero": false}, "axis": {"orient": "bottom", "title": "Forecast Lead Time [day]", "tickCount": 100, "format": "d", "labelExpr": "datum.value % 10 === 0 ? datum.label : ''", "tickSize": {"condition": {"test": "datum.value % 10 === 0", "value": -7}, "value": -3}, "labelPadding": 12.5, "titlePadding": 0}},
            "y": {"field": "y", "type": "quantitative", "scale": {"domain": [-0.9, 40.6], "nice": false, "zero": false}, "axis": {"orient": "left", "title": "RMSE [day]", "tickCount": 80, "format": "d", "labelExpr": "datum.value % 10 === 0 ? datum.label : ''", "tickSize": {"condition": {"test": "datum.value % 10 === 0", "value": -7}, "value": -3}, "labelPadding": 9.5, "titlePadding": 8}}
          }
        },
        {
          "transform": [{"filter": "datum.p === 'F' && datum.s !== 'CLIM'"}],
          "mark": {"type": "line", "strokeJoin": "round", "clip": true},
          "encoding": {
            "x": {"field": "x", "type": "quantitative", "scale": {"domain": [58.5, 0], "nice": false, "zero": false}, "axis": {"orient": "top", "labels": false, "tickCount": 100, "tickSize": {"condition": {"test": "datum.value % 10 === 0", "value": -7}, "value": -3}, "title": "F", "titleX": -45, "titleY": -14, "titleAlign": "left", "titleBaseline": "alphabetic", "titleFontWeight": "bold", "titleFontSize": 18}},
            "y": {"field": "y", "type": "quantitative", "scale": {"domain": [-0.9, 40.6], "nice": false, "zero": false}, "axis": {"orient": "right", "labels": false, "tickCount": 80, "tickSize": {"condition": {"test": "datum.value % 10 === 0", "value": -7}, "value": -3}, "title": "E. Asian Monsoon", "titleAngle": 0, "titleX": -105, "titleY": -9, "titleAlign": "center", "titleBaseline": "alphabetic", "titleFontSize": 21}},
            "color": {"field": "s", "type": "nominal", "scale": {"domain": ["NCEP", "CMA", "JMA", "MME"], "range": ["#000000", "#1b1bb3", "#b8a01e", "#ff3f14"]}, "legend": null},
            "strokeWidth": {"field": "w", "type": "nominal", "scale": {"domain": ["thin", "thick"], "range": [1.2, 3.2]}, "legend": null},
            "detail": {"field": "g", "type": "nominal"}
          }
        }
      ],
      "resolve": {"axis": {"x": "independent", "y": "independent"}}
    },
    {
      "width": 239, "height": 224,
      "layer": [
        {
          "transform": [{"filter": "datum.p === 'G' && datum.s === 'CLIM'"}],
          "mark": {"type": "line", "color": "#000", "strokeWidth": 1.3, "strokeDash": [8, 5], "clip": true},
          "encoding": {
            "x": {"field": "x", "type": "quantitative", "scale": {"domain": [58.5, 0], "nice": false, "zero": false}, "axis": {"orient": "bottom", "title": "Forecast Lead Time [day]", "tickCount": 100, "format": "d", "labelExpr": "datum.value % 10 === 0 ? datum.label : ''", "tickSize": {"condition": {"test": "datum.value % 10 === 0", "value": -7}, "value": -3}, "labelPadding": 12.5, "titlePadding": 0}},
            "y": {"field": "y", "type": "quantitative", "scale": {"domain": [-0.9, 40.6], "nice": false, "zero": false}, "axis": {"orient": "left", "title": "RMSE [day]", "tickCount": 80, "format": "d", "labelExpr": "datum.value % 10 === 0 ? datum.label : ''", "tickSize": {"condition": {"test": "datum.value % 10 === 0", "value": -7}, "value": -3}, "labelPadding": 9.5, "titlePadding": 8}}
          }
        },
        {
          "transform": [{"filter": "datum.p === 'G' && datum.s !== 'CLIM'"}],
          "mark": {"type": "line", "strokeJoin": "round", "clip": true},
          "encoding": {
            "x": {"field": "x", "type": "quantitative", "scale": {"domain": [58.5, 0], "nice": false, "zero": false}, "axis": {"orient": "top", "labels": false, "tickCount": 100, "tickSize": {"condition": {"test": "datum.value % 10 === 0", "value": -7}, "value": -3}, "title": "G", "titleX": -50, "titleY": -14, "titleAlign": "left", "titleBaseline": "alphabetic", "titleFontWeight": "bold", "titleFontSize": 18}},
            "y": {"field": "y", "type": "quantitative", "scale": {"domain": [-0.9, 40.6], "nice": false, "zero": false}, "axis": {"orient": "right", "labels": false, "tickCount": 80, "tickSize": {"condition": {"test": "datum.value % 10 === 0", "value": -7}, "value": -3}, "title": "N. Australian Monsoon", "titleAngle": 0, "titleX": -108, "titleY": -9, "titleAlign": "center", "titleBaseline": "alphabetic", "titleFontSize": 21}},
            "color": {"field": "s", "type": "nominal", "scale": {"domain": ["NCEP", "CMA", "JMA", "MME"], "range": ["#000000", "#1b1bb3", "#b8a01e", "#ff3f14"]}, "legend": null},
            "strokeWidth": {"field": "w", "type": "nominal", "scale": {"domain": ["thin", "thick"], "range": [1.2, 3.2]}, "legend": null},
            "detail": {"field": "g", "type": "nominal"}
          }
        }
      ],
      "resolve": {"axis": {"x": "independent", "y": "independent"}}
    }
  ]
}
